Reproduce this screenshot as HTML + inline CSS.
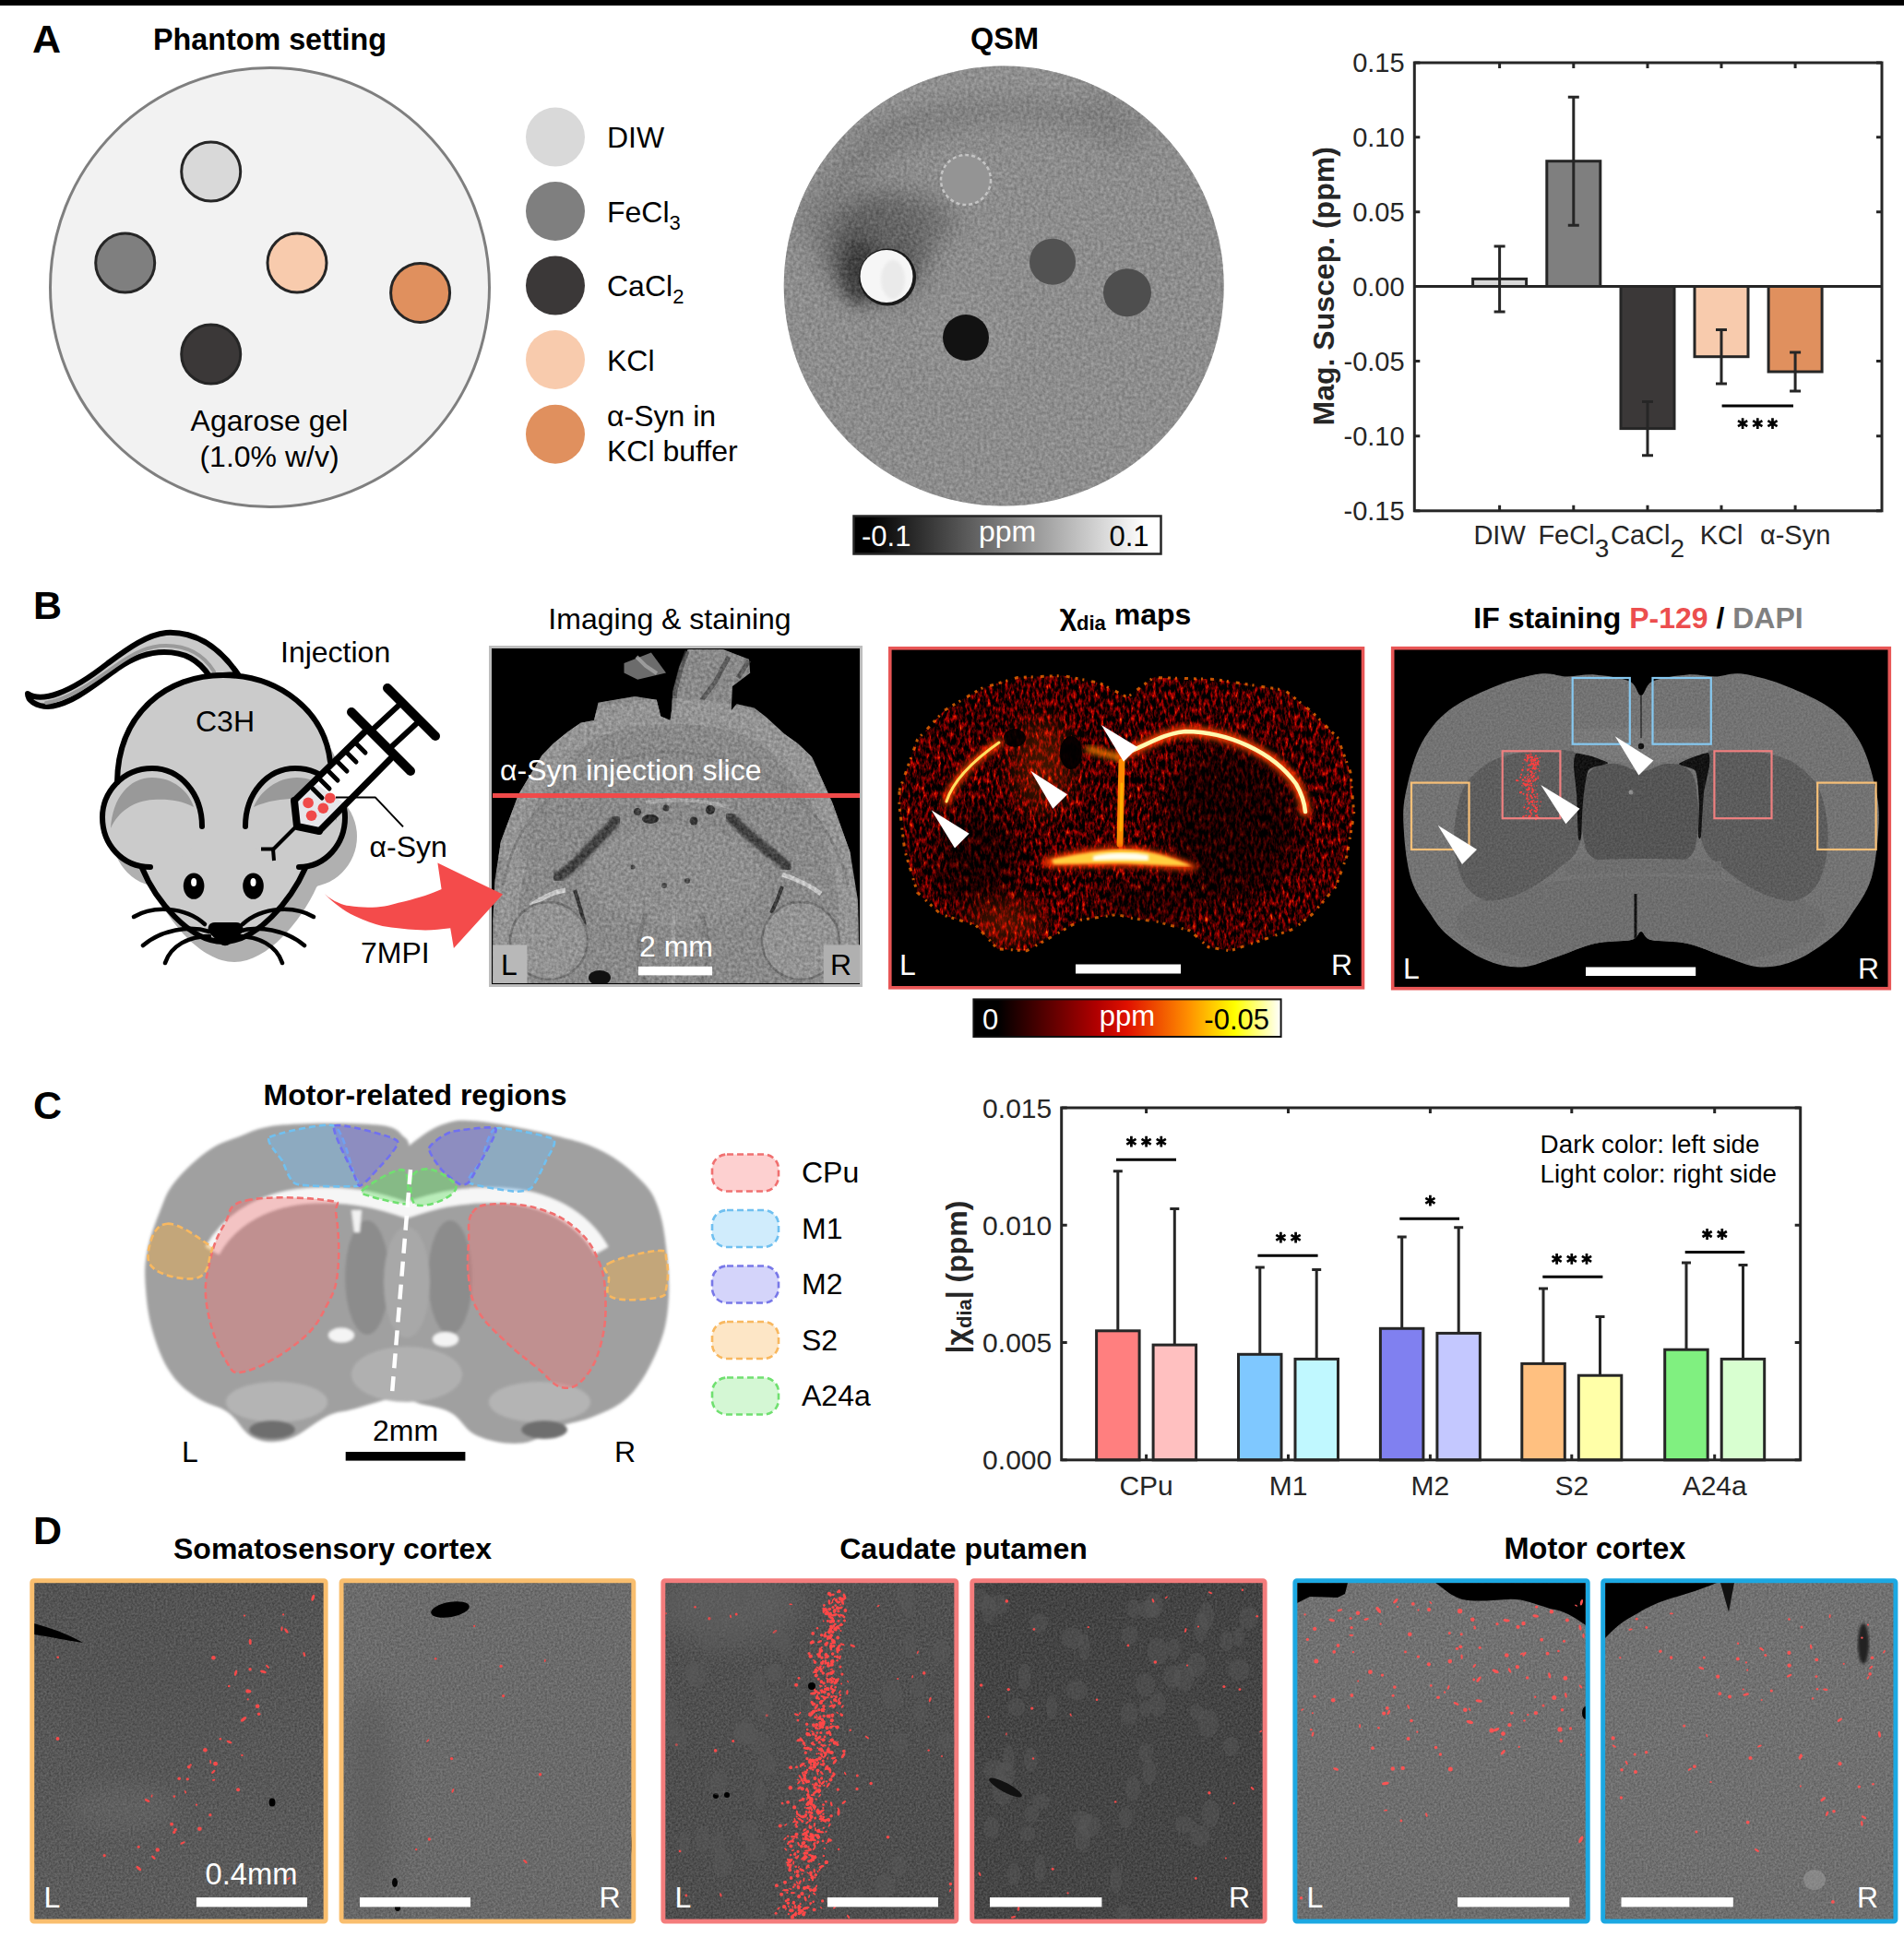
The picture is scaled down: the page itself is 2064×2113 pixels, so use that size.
<!DOCTYPE html>
<html><head><meta charset="utf-8">
<style>
html,body{margin:0;padding:0;background:#fff;}
body{width:2064px;height:2113px;overflow:hidden;position:relative;}
svg{position:absolute;left:0;top:0;}
text{font-family:"Liberation Sans",sans-serif;}
.b{font-weight:bold;}
</style></head><body>
<svg width="2064" height="2113" viewBox="0 0 2064 2113">
<defs>
<clipPath id="qsmclip"><circle cx="1088.2" cy="310.1" r="238.5"/></clipPath>
<filter id="blur12" x="-50%" y="-50%" width="200%" height="200%"><feGaussianBlur stdDeviation="14"/></filter>
<filter id="noise" x="0" y="0" width="100%" height="100%" color-interpolation-filters="sRGB"><feTurbulence type="fractalNoise" baseFrequency="0.3" numOctaves="2" seed="3"/><feColorMatrix type="matrix" values="1 0 0 0 0 1 0 0 0 0 1 0 0 0 0 0 0 0 0 1"/></filter>
<linearGradient id="gbw" x1="0" x2="1" y1="0" y2="0"><stop offset="0.05" stop-color="#000"/><stop offset="0.95" stop-color="#fff"/></linearGradient>
<clipPath id="mriclip"><rect x="533.2" y="703.2" width="398.8" height="362.7"/></clipPath>
<clipPath id="chiclip"><rect x="965" y="703" width="512" height="367"/></clipPath>
<clipPath id="ifclip"><rect x="1511" y="704" width="535" height="366"/></clipPath>
<clipPath id="chibrainclip"><path d="M975 857 L 994.5 801.7 L 1024 770 L 1063.6 746.4 L 1103 734.5 L 1152.5 732.5 L 1192 740.4 L 1222 756 L 1250.5 734.5 L 1317.7 736.5 L 1392.8 748.3 L 1422.4 772 L 1450 799.7 L 1463.9 837.2 L 1467.8 882.6 L 1460 928 L 1448 961.6 L 1422.4 991.3 L 1402.6 1007 L 1369 1019 L 1333.5 1030.8 L 1309.8 1026.8 L 1290 1009 L 1254.5 999.2 L 1224.9 995.2 L 1211.8 991.3 L 1172.3 997.2 L 1144.6 1013 L 1113 1030.8 L 1081.4 1028.8 L 1057.7 1003 L 1020 991.3 L 994.5 967.6 L 980.7 922 L 974.8 872.8 Z"/></clipPath>
<filter id="hot" x="0" y="0" width="100%" height="100%" color-interpolation-filters="sRGB">
<feTurbulence type="fractalNoise" baseFrequency="0.3 0.12" numOctaves="3" seed="7" result="n"/>
<feColorMatrix in="n" type="matrix" values="1.2 0 0 0 -0.47  1.2 0 0 0 -0.47  1.2 0 0 0 -0.47  0 0 0 0 1" result="g"/>
<feComponentTransfer in="g">
<feFuncR type="table" tableValues="0 0.2 0.42 0.68 0.92 1 1 1 1"/>
<feFuncG type="table" tableValues="0 0 0 0 0.15 0.45 0.8 1 1"/>
<feFuncB type="table" tableValues="0 0 0 0 0 0 0.3 0.7 1"/>
</feComponentTransfer>
</filter>
<filter id="glow" x="-20%" y="-50%" width="140%" height="200%"><feGaussianBlur stdDeviation="3"/></filter>
<filter id="blur6" x="-50%" y="-50%" width="200%" height="200%"><feGaussianBlur stdDeviation="8"/></filter>
<linearGradient id="ghot" x1="0" x2="1" y1="0" y2="0">
<stop offset="0.08" stop-color="#000"/><stop offset="0.4" stop-color="#b00000"/><stop offset="0.5" stop-color="#e01000"/><stop offset="0.7" stop-color="#ff9000"/><stop offset="0.85" stop-color="#ffff00"/><stop offset="1" stop-color="#fff"/>
</linearGradient>
<filter id="speck" x="-50%" y="-10%" width="200%" height="120%"><feTurbulence type="turbulence" baseFrequency="0.6" numOctaves="1" seed="2" result="t"/><feComposite in="SourceGraphic" in2="t" operator="in"/></filter>
<filter id="soft" x="-5%" y="-5%" width="110%" height="110%"><feGaussianBlur stdDeviation="1.5"/></filter>
<filter id="gnoise" x="0" y="0" width="100%" height="100%" color-interpolation-filters="sRGB"><feTurbulence type="fractalNoise" baseFrequency="0.45" numOctaves="2" seed="9"/><feColorMatrix type="matrix" values="1 0 0 0 0 1 0 0 0 0 1 0 0 0 0 0 0 0 0 1"/></filter>
<filter id="reddots" x="0" y="0" width="100%" height="100%" color-interpolation-filters="sRGB"><feTurbulence type="fractalNoise" baseFrequency="0.3" numOctaves="1" seed="11" result="n"/><feColorMatrix in="n" type="matrix" values="0 0 0 0 0.95 0 0 0 0 0.27 0 0 0 0 0.27 20 0 0 0 -13.5" result="d"/><feComposite in="d" in2="SourceGraphic" operator="in"/></filter>
<filter id="reddots2" x="0" y="0" width="100%" height="100%" color-interpolation-filters="sRGB"><feTurbulence type="fractalNoise" baseFrequency="0.35" numOctaves="1" seed="12" result="n"/><feColorMatrix in="n" type="matrix" values="0 0 0 0 0.95 0 0 0 0 0.27 0 0 0 0 0.27 14 0 0 0 -7.8" result="d"/><feComposite in="d" in2="SourceGraphic" operator="in"/></filter>
<filter id="reddots3" x="0" y="0" width="100%" height="100%" color-interpolation-filters="sRGB"><feTurbulence type="fractalNoise" baseFrequency="0.3" numOctaves="1" seed="13" result="n"/><feColorMatrix in="n" type="matrix" values="0 0 0 0 0.95 0 0 0 0 0.27 0 0 0 0 0.27 20 0 0 0 -13" result="d"/><feComposite in="d" in2="SourceGraphic" operator="in"/></filter>
</defs>
<rect x="0" y="0" width="2064" height="6" fill="#000"/>

<!-- ===== PANEL A ===== -->
<g id="A">
<text x="35" y="57" class="b" font-size="43">A</text>
<text x="292.5" y="53.6" class="b" font-size="32.3" text-anchor="middle">Phantom setting</text>
<circle cx="292.5" cy="311.5" r="238" fill="#f2f2f2" stroke="#7f7f7f" stroke-width="3"/>
<g stroke="#262626" stroke-width="3">
<circle cx="228.7" cy="186" r="32" fill="#d9d9d9"/>
<circle cx="135.7" cy="285" r="32" fill="#7f7f7f"/>
<circle cx="322" cy="285" r="32" fill="#f8cbad"/>
<circle cx="455.6" cy="317.4" r="32" fill="#e0905e"/>
<circle cx="228.7" cy="384" r="32" fill="#3b3838"/>
</g>
<text x="292" y="467" font-size="32" text-anchor="middle">Agarose gel</text>
<text x="292" y="506" font-size="32" text-anchor="middle">(1.0% w/v)</text>
<g>
<circle cx="602" cy="148.6" r="32" fill="#d9d9d9"/>
<circle cx="602" cy="229" r="32" fill="#7f7f7f"/>
<circle cx="602" cy="309.6" r="32" fill="#3b3838"/>
<circle cx="602" cy="390" r="32" fill="#f8cbad"/>
<circle cx="602" cy="470.7" r="32" fill="#e0905e"/>
</g>
<g font-size="32">
<text x="658" y="160">DIW</text>
<text x="658" y="241">FeCl<tspan font-size="22" dy="8">3</tspan></text>
<text x="658" y="321">CaCl<tspan font-size="22" dy="8">2</tspan></text>
<text x="658" y="402">KCl</text>
<text x="658" y="462">α-Syn in</text>
<text x="658" y="500">KCl buffer</text>
</g>
</g>

<!-- QSM -->
<text x="1089" y="52.5" class="b" font-size="32.5" text-anchor="middle">QSM</text>
<g id="qsm">
<circle cx="1088.2" cy="310.1" r="238.5" fill="#929292"/>
<g clip-path="url(#qsmclip)">
<path d="M880 260 C 900 170, 980 120, 1080 110 C 1150 105, 1200 125, 1230 150" fill="none" stroke="#7a7a7a" stroke-width="40" filter="url(#blur12)" opacity="0.8"/>
<path d="M900 120 C 960 95, 1060 80, 1180 95" fill="none" stroke="#9c9c9c" stroke-width="30" filter="url(#blur12)" opacity="0.8"/>
<path d="M870 210 C 880 170, 900 150, 920 135" fill="none" stroke="#9a9a9a" stroke-width="20" filter="url(#blur12)" opacity="0.7"/>
<ellipse cx="950" cy="270" rx="55" ry="55" fill="#4a4a4a" filter="url(#blur12)" opacity="0.9"/>
<ellipse cx="985" cy="240" rx="50" ry="28" fill="#606060" filter="url(#blur12)" opacity="0.8"/>
<ellipse cx="1050" cy="370" rx="45" ry="45" fill="#9a9a9a" filter="url(#blur12)" opacity="0.5"/>
<ellipse cx="932" cy="295" rx="20" ry="34" fill="#202020" filter="url(#blur6)" opacity="0.85"/>
<rect x="849" y="71" width="480" height="478" fill="#888" filter="url(#noise)" opacity="0.25"/>
</g>
<circle cx="962.1" cy="300.5" r="31" fill="#1a1a1a"/>
<circle cx="961" cy="299.5" r="28.5" fill="#f6f6f6"/>
<ellipse cx="968" cy="303" rx="13" ry="21" fill="#dcdcdc" opacity="0.45" filter="url(#soft)"/>
<circle cx="1047" cy="195" r="27" fill="#949494" stroke="#c4c4c4" stroke-width="2.5" stroke-dasharray="4 3"/>
<circle cx="1141" cy="283.7" r="25" fill="#525252"/>
<circle cx="1222" cy="317.2" r="26" fill="#4e4e4e"/>
<circle cx="1047" cy="366" r="25" fill="#121212"/>
</g>
<rect x="925.5" y="559.5" width="333" height="41" fill="url(#gbw)" stroke="#262626" stroke-width="2.5"/>
<text x="934" y="591.5" font-size="31" fill="#fff">-0.1</text>
<text x="1092" y="586.6" font-size="32" fill="#fff" text-anchor="middle">ppm</text>
<text x="1245.5" y="591.5" font-size="31" fill="#000" text-anchor="end">0.1</text>
<g id="chartA">
<rect x="1596.6" y="302.4" width="58" height="8.1" fill="#d9d9d9" stroke="#262626" stroke-width="3"/>
<rect x="1676.8" y="174.7" width="58" height="135.8" fill="#7f7f7f" stroke="#262626" stroke-width="3"/>
<rect x="1757.0" y="310.5" width="58" height="154.1" fill="#3b3838" stroke="#262626" stroke-width="3"/>
<rect x="1837.0" y="310.5" width="58" height="76.2" fill="#f8cbad" stroke="#262626" stroke-width="3"/>
<rect x="1917.1" y="310.5" width="58" height="92.5" fill="#e0905e" stroke="#262626" stroke-width="3"/>
<path d="M1625.6 266.9V338.1M1619.6 266.9h12M1619.6 338.1h12" stroke="#262626" stroke-width="3" fill="none"/>
<path d="M1705.8 105.2V244.2M1699.8 105.2h12M1699.8 244.2h12" stroke="#262626" stroke-width="3" fill="none"/>
<path d="M1786.0 435.4V493.8M1780.0 435.4h12M1780.0 493.8h12" stroke="#262626" stroke-width="3" fill="none"/>
<path d="M1866.0 357.5V415.9M1860.0 357.5h12M1860.0 415.9h12" stroke="#262626" stroke-width="3" fill="none"/>
<path d="M1946.1 381.9V424.0M1940.1 381.9h12M1940.1 424.0h12" stroke="#262626" stroke-width="3" fill="none"/>
<path d="M1533.3 310.5H2040" stroke="#262626" stroke-width="3"/>
<rect x="1533.3" y="68" width="506.7" height="485.8" fill="none" stroke="#262626" stroke-width="3"/>
<path d="M1533.3 68.0h6M2040 68.0h-6M1533.3 148.8h6M2040 148.8h-6M1533.3 229.7h6M2040 229.7h-6M1533.3 310.5h6M2040 310.5h-6M1533.3 391.6h6M2040 391.6h-6M1533.3 472.7h6M2040 472.7h-6M1533.3 553.8h6M2040 553.8h-6M1625.6 553.8v-6M1625.6 68v6M1705.8 553.8v-6M1705.8 68v6M1786 553.8v-6M1786 68v6M1866 553.8v-6M1866 68v6M1946.1 553.8v-6M1946.1 68v6" stroke="#262626" stroke-width="3"/>
<g font-size="29" fill="#262626" text-anchor="end">
<text x="1522.6" y="78.4">0.15</text>
<text x="1522.6" y="159.2">0.10</text>
<text x="1522.6" y="240.1">0.05</text>
<text x="1522.6" y="320.9">0.00</text>
<text x="1522.6" y="402.0">-0.05</text>
<text x="1522.6" y="483.1">-0.10</text>
<text x="1522.6" y="564.2">-0.15</text>
</g>
<path d="M1866.6 440H1944" stroke="#000" stroke-width="3"/>
<path d="M1889.1 453.3V465.1M1884.0 456.2L1894.2 462.1M1884.0 462.1L1894.2 456.2" stroke="#000" stroke-width="2.7"/><path d="M1905.3 453.3V465.1M1900.2 456.2L1910.4 462.1M1900.2 462.1L1910.4 456.2" stroke="#000" stroke-width="2.7"/><path d="M1921.5 453.3V465.1M1916.4 456.2L1926.6 462.1M1916.4 462.1L1926.6 456.2" stroke="#000" stroke-width="2.7"/>
<text transform="translate(1446 310.3) rotate(-90)" class="b" font-size="32" fill="#262626" text-anchor="middle">Mag. Suscep. (ppm)</text>
<g font-size="29" fill="#262626" text-anchor="middle">
<text x="1625.6" y="590.3">DIW</text>
<text x="1705.8" y="590.3">FeCl<tspan dy="14" font-size="28">3</tspan></text>
<text x="1786" y="590.3">CaCl<tspan dy="14" font-size="28">2</tspan></text>
<text x="1866" y="590.3">KCl</text>
<text x="1946.1" y="590.3">α-Syn</text>
</g>
</g>


<!-- ===== PANEL B ===== -->
<text x="36" y="670.5" class="b" font-size="43">B</text>
<g id="mouse" stroke-linecap="round" stroke-linejoin="round">
<!-- tail -->
<path d="M30 752 C 45 762, 75 752, 117 719 C 140 702, 160 688, 180 686 C 215 684, 240 705, 258 731 L 227 733 C 215 715, 200 707, 178 707 C 158 707, 140 716, 127 725 C 100 745, 75 765, 52 766 C 40 766, 30 760, 30 752 Z" fill="#cacaca" stroke="#000" stroke-width="6"/>
<path d="M50 762 C 75 758, 100 740, 125 722 C 145 708, 160 700, 180 700 C 205 700, 222 712, 232 728" fill="none" stroke="#9a9a9a" stroke-width="4"/>
<!-- shadow silhouette -->
<g transform="translate(12 21)" fill="#b0b0b0">
<path d="M127 855 C 127 775, 180 732, 242 732 C 305 732, 355 775, 360 835 L 360 900 L 331 941 L 154 941 L 127 900 Z"/>
<circle cx="165" cy="886" r="55"/>
<circle cx="320" cy="886" r="55"/>
<path d="M150 930 L 154 941 C 168 975, 205 1022, 242 1022 C 279 1022, 316 975, 331 941 L 335 930 Z"/>
</g>
<!-- main silhouette fill -->
<g fill="#cbcbcb">
<path d="M127 855 C 127 775, 180 732, 242 732 C 305 732, 355 775, 360 835 L 360 900 L 331 941 L 154 941 L 127 900 Z"/>
<circle cx="165" cy="886" r="54"/>
<circle cx="320" cy="886" r="54"/>
<path d="M150 930 L 154 941 C 168 975, 205 1022, 242 1022 C 279 1022, 316 975, 331 941 L 335 930 Z"/>
</g>
<g fill="none" stroke="#000" stroke-width="6">
<path d="M127 848 C 128 772, 182 732, 242 732 C 304 732, 352 772, 358 826"/>
<path d="M154 941 C 168 975, 205 1021, 242 1021 C 279 1021, 316 975, 331 941"/>
<path d="M219 896 C 219 860, 195 833, 165 833 C 132 833, 111 860, 111 886 C 111 915, 132 940, 163 940"/>
<path d="M266 896 C 266 860, 290 833, 320 833 C 353 833, 374 860, 374 886 C 374 915, 353 940, 324 940"/>
</g>
<path d="M120 898 C 122 865, 140 843, 165 843 C 188 843, 205 858, 210 875 C 195 867, 180 866, 166 867 C 145 868, 128 880, 120 898 Z" fill="#999"/>
<path d="M275 875 C 282 858, 300 843, 322 843 C 346 843, 362 860, 365 890 C 355 875, 340 866, 320 866 C 306 866, 290 868, 275 875 Z" fill="#999"/>
<!-- eyes -->
<ellipse cx="210.1" cy="960.6" rx="11.3" ry="14.2" fill="#000"/>
<ellipse cx="274.5" cy="960.6" rx="11.3" ry="14.2" fill="#000"/>
<ellipse cx="210.1" cy="956.5" rx="3" ry="4.5" fill="#fff"/>
<ellipse cx="274.5" cy="956.5" rx="3" ry="4.5" fill="#fff"/>
<!-- nose -->
<path d="M233 1001 L 256 1001 C 262 1001, 264 1006, 261 1011 L 249 1022 C 246 1025, 242 1025, 239 1022 L 228 1011 C 225 1006, 227 1001, 233 1001 Z" fill="#000" stroke="#000" stroke-width="2"/>
<!-- whiskers -->
<g fill="none" stroke="#000" stroke-width="4.5">
<path d="M145 994 C 165 982, 200 982, 222 1002"/>
<path d="M155 1025 C 175 1008, 205 1003, 227 1010"/>
<path d="M179 1044 C 185 1025, 205 1015, 227 1015"/>
<path d="M340 994 C 320 982, 285 982, 263 1002"/>
<path d="M330 1025 C 310 1008, 280 1003, 258 1010"/>
<path d="M306 1044 C 300 1025, 280 1015, 258 1015"/>
</g>
<!-- syringe -->
<g stroke="#000" fill="none">
<path d="M319 868 L 398 791 L 423 823 L 346 901 L 321 896 Z" fill="#ffffff" stroke="none"/>
<path d="M318 869 L 321 896 L 346 901 L 375 872 L 340 848 Z" fill="#e6e6ea" stroke="none"/>
<path d="M319 868 L 322 896 L 346 901" stroke-width="8"/>
<path d="M319 868 L 398 791" stroke-width="7"/>
<path d="M346 901 L 423 823" stroke-width="7"/>
<path d="M321 896 L 296 921" stroke-width="4"/>
<path d="M283 920.5 L 296 920.5 L 297 933" stroke-width="4" stroke-linecap="butt"/>
<path d="M381 772 L 445 836" stroke-width="10"/>
<path d="M420 746 L 472 798" stroke-width="10"/>
<path d="M405 790 L 433 764 M 425 809 L 452 784" stroke-width="6"/>
<path d="M339 855 L 349 865 M 347 845 L 357 855 M 356 836 L 366 846 M 366 826 L 376 836 M 376 816 L 386 826 M 386 806 L 396 816" stroke-width="5"/>
</g>
<g fill="#f04a4a">
<circle cx="334.1" cy="870.4" r="5.8"/><circle cx="357.8" cy="865.2" r="5.8"/><circle cx="350.3" cy="876.2" r="5.8"/><circle cx="337.6" cy="884.2" r="5.8"/>
</g>
<path d="M364 864.6 L 407 864.6 L 437 896.4" fill="none" stroke="#000" stroke-width="2" stroke-linecap="butt"/>
</g>
<text x="304" y="717.8" font-size="32">Injection</text>
<text x="212" y="793" font-size="32">C3H</text>
<text x="400.5" y="929" font-size="32">α-Syn</text>
<text x="391" y="1043.8" font-size="32">7MPI</text>
<text x="726" y="682.3" font-size="32" text-anchor="middle">Imaging &amp; staining</text>
<rect x="531.5" y="701.5" width="402" height="367" fill="#000" stroke="#bdbdbd" stroke-width="3"/>
<defs><clipPath id="mribrain"><path d="M534 1066 L534.3 997.8 L536.4 955.3 L542.8 912.7 L561.9 861.7 L587.4 819 L600 806 L614.7 794 L629.4 783.8 L644 780.9 L648.5 761.8 L688.2 755 L711.8 758.8 L716.2 776.5 L726.5 780.9 L728 770.6 L729.4 750 L736.8 722 L745.6 704 L783.8 704 L811.8 714.7 L813.2 729.4 L794 744 L792.6 770.6 L798.5 763.2 L817.6 767.6 L829.4 776.5 L850 795.6 L864.7 805.9 L880 820.6 L902.3 870.2 L921.4 923.4 L930 976.5 L932 1066 Z"/></clipPath></defs>
<g clip-path="url(#mriclip)">
<path d="M534 1066 L534.3 997.8 L536.4 955.3 L542.8 912.7 L561.9 861.7 L587.4 819 L600 806 L614.7 794 L629.4 783.8 L644 780.9 L648.5 761.8 L688.2 755 L711.8 758.8 L716.2 776.5 L726.5 780.9 L728 770.6 L729.4 750 L736.8 722 L745.6 704 L783.8 704 L811.8 714.7 L813.2 729.4 L794 744 L792.6 770.6 L798.5 763.2 L817.6 767.6 L829.4 776.5 L850 795.6 L864.7 805.9 L880 820.6 L902.3 870.2 L921.4 923.4 L930 976.5 L932 1066 Z" fill="#8f8f8f"/>
<path d="M676.5 719 L705.9 707.4 L722 729.4 L691.2 736.8 L676.5 729.4 Z" fill="#6c6c6c"/>
<path d="M745 706 L 738 725 L 732 748 L 730 770 M 790 712 L 775 740 L 760 760 M 812 716 L 800 735" fill="none" stroke="#3a3a3a" stroke-width="5" opacity="0.8"/>
<path d="M690 712 L 700 722 L 712 730" fill="none" stroke="#a8a8a8" stroke-width="4" opacity="0.8"/>
<g clip-path="url(#mribrain)">
<path d="M548 930 C 560 860, 600 800, 660 780 C 700 768, 760 768, 800 780 C 860 800, 900 860, 915 930" fill="none" stroke="#a4a4a4" stroke-width="28" opacity="0.7"/>
<path d="M550 1066 C 545 1000, 550 960, 560 930" fill="none" stroke="#a8a8a8" stroke-width="24" opacity="0.6"/>
<path d="M915 1066 C 922 1000, 920 960, 910 930" fill="none" stroke="#a8a8a8" stroke-width="20" opacity="0.6"/>
<path d="M545 960 C 560 880, 620 820, 730 815 C 840 820, 900 880, 920 960" fill="none" stroke="#7a7a7a" stroke-width="3" opacity="0.8"/>
<path d="M668 889 C 655 905, 640 918, 630 930 C 618 942, 610 948, 604 951" fill="none" stroke="#262626" stroke-width="11" stroke-linecap="round" filter="url(#soft)"/>
<path d="M791 885 C 805 900, 820 912, 832 922 C 842 930, 850 936, 854 940" fill="none" stroke="#262626" stroke-width="11" stroke-linecap="round" filter="url(#soft)"/>
<path d="M623 965 C 628 980, 631 992, 634 1003 M 848 961 C 844 972, 840 982, 836 990" fill="none" stroke="#1e1e1e" stroke-width="4"/>
<ellipse cx="730" cy="950" rx="95" ry="55" fill="#9a9a9a" opacity="0.6"/>
<path d="M575 982 C 590 972, 600 967, 613 965" fill="none" stroke="#e4e4e4" stroke-width="5"/>
<path d="M848 948 C 860 952, 878 960, 890 969" fill="none" stroke="#e4e4e4" stroke-width="5"/>
<ellipse cx="595" cy="1020" rx="42" ry="42" fill="#9c9c9c" stroke="#6c6c6c" stroke-width="2.5"/>
<ellipse cx="868" cy="1020" rx="42" ry="42" fill="#9c9c9c" stroke="#6c6c6c" stroke-width="2.5"/>
<path d="M730 985 L 730 1066" stroke="#b0b0b0" stroke-width="4" opacity="0.7"/>
<path d="M700 990 C 690 1020, 690 1050, 700 1066 M 760 990 C 770 1020, 770 1050, 760 1066" fill="none" stroke="#6a6a6a" stroke-width="5" opacity="0.6"/>
<ellipse cx="705" cy="888" rx="9" ry="5" fill="#111"/><circle cx="691" cy="880" r="4" fill="#222"/><circle cx="770" cy="878" r="5" fill="#111"/><circle cx="752" cy="890" r="4.5" fill="#1a1a1a"/><circle cx="722" cy="876" r="3.5" fill="#222"/>
<path d="M700 870 C 720 866, 760 866, 790 875" fill="none" stroke="#c8c8c8" stroke-width="4" opacity="0.7"/>
<circle cx="720" cy="960" r="3" fill="#333"/><circle cx="686" cy="940" r="2.5" fill="#333"/><circle cx="745" cy="955" r="3" fill="#333"/>
<rect x="534" y="704" width="398" height="362" fill="#888" filter="url(#noise)" opacity="0.3"/>
<ellipse cx="650" cy="1060" rx="12" ry="8" fill="#111"/>
</g></g>
<rect x="534.3" y="1024.4" width="37.2" height="41.5" fill="#b8b8b8"/>
<rect x="892.7" y="1024.4" width="39.3" height="41.5" fill="#b0b0b0"/>
<text x="543" y="1057.4" font-size="32" fill="#000">L</text>
<text x="900" y="1057.4" font-size="32" fill="#000">R</text>
<rect x="534" y="860" width="398" height="5" fill="#f04a4a"/>
<text x="542" y="846.4" font-size="32" fill="#fff">α-Syn injection slice</text>
<text x="733" y="1036.5" font-size="32" fill="#fff" text-anchor="middle">2 mm</text>
<rect x="692" y="1047.8" width="80" height="9.6" fill="#fff"/>

<!-- red arrow -->
<path d="M351.7 968.9 C 362 978, 372 981, 378.3 982.1 C 390 984, 400 984, 408.5 983.4 C 420 983, 430 979, 438.7 977.3 C 455 973, 468 969, 478.6 964 L 474.4 935.6 L 545 969.5 L 491.9 1028 L 488.2 1006.3 C 475 1008, 465 1009, 450.8 1008.1 C 440 1007, 428 1006, 414.6 1003.9 C 405 1002, 395 998, 384.4 993 C 372 987, 362 979, 351.7 968.9 Z" fill="#f44b4b"/>

<!-- chi map panel -->
<text x="1220" y="677" class="b" font-size="32" text-anchor="middle">χ<tspan font-size="22" dy="6">dia</tspan><tspan dy="-6"> maps</tspan></text>
<rect x="964.8" y="702.8" width="512.7" height="368" fill="#000" stroke="#e85656" stroke-width="3.6"/>
<g clip-path="url(#chiclip)">
<path id="chibrain" d="M975 857 L 994.5 801.7 L 1024 770 L 1063.6 746.4 L 1103 734.5 L 1152.5 732.5 L 1192 740.4 L 1222 756 L 1250.5 734.5 L 1317.7 736.5 L 1392.8 748.3 L 1422.4 772 L 1450 799.7 L 1463.9 837.2 L 1467.8 882.6 L 1460 928 L 1448 961.6 L 1422.4 991.3 L 1402.6 1007 L 1369 1019 L 1333.5 1030.8 L 1309.8 1026.8 L 1290 1009 L 1254.5 999.2 L 1224.9 995.2 L 1211.8 991.3 L 1172.3 997.2 L 1144.6 1013 L 1113 1030.8 L 1081.4 1028.8 L 1057.7 1003 L 1020 991.3 L 994.5 967.6 L 980.7 922 L 974.8 872.8 Z" fill="#1e0200"/>
<g clip-path="url(#chibrainclip)">
<rect x="965" y="703" width="512" height="367" filter="url(#hot)" opacity="1"/>
</g>
<path d="M975 857 L 994.5 801.7 L 1024 770 L 1063.6 746.4 L 1103 734.5 L 1152.5 732.5 L 1192 740.4 L 1222 756 L 1250.5 734.5 L 1317.7 736.5 L 1392.8 748.3 L 1422.4 772 L 1450 799.7 L 1463.9 837.2 L 1467.8 882.6 L 1460 928 L 1448 961.6 L 1422.4 991.3 L 1402.6 1007 L 1369 1019 L 1333.5 1030.8 L 1309.8 1026.8 L 1290 1009 L 1254.5 999.2 L 1224.9 995.2 L 1211.8 991.3 L 1172.3 997.2 L 1144.6 1013 L 1113 1030.8 L 1081.4 1028.8 L 1057.7 1003 L 1020 991.3 L 994.5 967.6 L 980.7 922 L 974.8 872.8 Z" fill="none" stroke="#ff7000" stroke-width="3" stroke-dasharray="3 5 2 8 4 6" opacity="0.75"/>
<g clip-path="url(#chibrainclip)">
<ellipse cx="1335" cy="890" rx="75" ry="85" fill="#000" opacity="0.55" filter="url(#blur12)"/>
<ellipse cx="1060" cy="930" rx="45" ry="55" fill="#000" opacity="0.5" filter="url(#blur12)"/>
<ellipse cx="1250" cy="975" rx="60" ry="20" fill="#000" opacity="0.5" filter="url(#blur12)"/>
<ellipse cx="1130" cy="830" rx="30" ry="50" fill="#ff5000" opacity="0.25" filter="url(#blur12)"/>
<ellipse cx="1090" cy="1000" rx="40" ry="20" fill="#ff4000" opacity="0.3" filter="url(#blur12)"/>
</g>
<ellipse cx="1100" cy="800" rx="12" ry="10" fill="#000" opacity="0.9"/>
<ellipse cx="1161" cy="816" rx="12" ry="18" fill="#000" opacity="0.95"/>
<g fill="none" stroke-linecap="round">
<path d="M1216 818 C 1240 810, 1260 795, 1285 793 C 1330 793, 1380 815, 1405 850 C 1412 862, 1414 870, 1415 880" stroke="#ff4000" stroke-width="11" filter="url(#glow)"/>
<path d="M1216 818 C 1240 810, 1260 795, 1285 793 C 1330 793, 1380 815, 1405 850 C 1412 862, 1414 870, 1415 880" stroke="#fff8b0" stroke-width="4.5"/>
<path d="M1026 869 C 1032 850, 1050 828, 1083 805" stroke="#ff4000" stroke-width="8" filter="url(#glow)"/>
<path d="M1026 869 C 1032 850, 1050 828, 1083 805" stroke="#ffe060" stroke-width="3"/>
<path d="M1180 812 L 1216 822" stroke="#ff8000" stroke-width="6" filter="url(#glow)"/>
<path d="M1216 821 L 1214 925" stroke="#f04000" stroke-width="13" filter="url(#glow)"/>
<path d="M1216 826 L 1214 915" stroke="#ff8a00" stroke-width="7"/>
<path d="M1216 850 L 1215 900" stroke="#ffb000" stroke-width="3"/>
<path d="M1132 931 C 1150 925, 1190 918, 1218 918 C 1245 918, 1280 930, 1300 940 C 1292 947, 1270 941, 1242 940 C 1210 939, 1170 940, 1138 940 C 1130 938, 1128 934, 1132 931 Z" fill="#ff3a00" filter="url(#glow)"/>
<path d="M1140 932 C 1160 927, 1195 921, 1218 921 C 1245 921, 1275 931, 1292 939 C 1270 939, 1245 937, 1215 936 C 1185 936, 1160 937, 1142 937 Z" fill="#ffd040" filter="url(#soft)"/>
<path d="M1185 928 C 1200 924, 1225 923, 1245 927 L 1245 933 C 1225 932, 1200 932, 1185 933 Z" fill="#fffff0" filter="url(#soft)"/>
</g>
</g>
<g fill="#fff">
<path d="M1193.9 786 L 1233.6 810.2 L 1218 825.8 Z"/>
<path d="M1117.3 835.7 L 1157 861.2 L 1141.4 876.8 Z"/>
<path d="M1009.6 878.2 L 1050.7 903.8 L 1035 919.4 Z"/>
</g>
<text x="975" y="1057" font-size="32" fill="#fff">L</text>
<text x="1443" y="1057" font-size="32" fill="#fff">R</text>
<rect x="1166" y="1045.5" width="114" height="10" fill="#fff"/>
<rect x="1055.4" y="1083.4" width="333.2" height="40.6" fill="url(#ghot)" stroke="#111" stroke-width="2"/>
<text x="1065" y="1116" font-size="31" fill="#fff">0</text>
<text x="1222" y="1112" font-size="31" fill="#fff" text-anchor="middle">ppm</text>
<text x="1376" y="1116" font-size="31" fill="#000" text-anchor="end">-0.05</text>
<text x="1776" y="681.3" class="b" font-size="32" text-anchor="middle">IF staining <tspan fill="#ec4e4e">P-129</tspan> / <tspan fill="#808080">DAPI</tspan></text>
<rect x="1509.7" y="702.7" width="538.6" height="369" fill="#000" stroke="#e85656" stroke-width="3.6"/>
<defs><clipPath id="ifbrain"><path d="M1779.0 754.0 C1783.2 754.0 1783.3 742.2 1791.7 738.5 C1800.1 734.8 1818.1 732.3 1829.3 731.5 C1840.5 730.7 1849.0 733.6 1858.9 733.5 C1868.8 733.4 1875.3 728.8 1888.5 730.6 C1901.7 732.4 1921.4 737.8 1937.9 744.4 C1954.4 751.0 1974.1 759.8 1987.3 770.0 C2000.5 780.2 2009.3 791.8 2016.9 805.6 C2024.5 819.4 2029.4 838.5 2032.7 853.0 C2036.0 867.5 2037.3 876.0 2036.6 892.5 C2035.9 909.0 2033.6 935.3 2028.7 951.8 C2023.8 968.3 2013.9 980.8 2007.0 991.3 C2000.1 1001.8 1997.2 1006.8 1987.3 1015.0 C1977.4 1023.2 1961.0 1035.0 1947.8 1040.6 C1934.6 1046.2 1921.5 1049.2 1908.3 1048.5 C1895.1 1047.8 1882.0 1041.0 1868.8 1036.7 C1855.6 1032.4 1842.5 1025.8 1829.3 1022.9 C1816.1 1019.9 1798.2 1021.1 1789.8 1019.0 C1781.4 1016.9 1782.6 1010.0 1779.0 1010.0 C1775.4 1010.0 1776.6 1016.9 1768.2 1019.0 C1759.8 1021.1 1741.9 1019.9 1728.7 1022.9 C1715.5 1025.8 1702.4 1032.4 1689.2 1036.7 C1676.0 1041.0 1662.9 1047.8 1649.7 1048.5 C1636.5 1049.2 1623.4 1046.2 1610.2 1040.6 C1597.0 1035.0 1580.6 1023.2 1570.7 1015.0 C1560.8 1006.8 1557.9 1001.8 1551.0 991.3 C1544.1 980.8 1534.2 968.3 1529.3 951.8 C1524.4 935.3 1522.1 909.0 1521.4 892.5 C1520.7 876.0 1522.0 867.5 1525.3 853.0 C1528.6 838.5 1533.5 819.4 1541.1 805.6 C1548.7 791.8 1557.5 780.2 1570.7 770.0 C1583.9 759.8 1603.6 751.0 1620.1 744.4 C1636.6 737.8 1656.3 732.4 1669.5 730.6 C1682.7 728.8 1689.2 733.4 1699.1 733.5 C1709.0 733.6 1717.5 730.7 1728.7 731.5 C1739.9 732.3 1757.9 734.8 1766.3 738.5 C1774.7 742.2 1774.8 754.0 1779.0 754.0 Z"/></clipPath></defs>
<g clip-path="url(#ifclip)">
<path d="M1779.0 754.0 C1783.2 754.0 1783.3 742.2 1791.7 738.5 C1800.1 734.8 1818.1 732.3 1829.3 731.5 C1840.5 730.7 1849.0 733.6 1858.9 733.5 C1868.8 733.4 1875.3 728.8 1888.5 730.6 C1901.7 732.4 1921.4 737.8 1937.9 744.4 C1954.4 751.0 1974.1 759.8 1987.3 770.0 C2000.5 780.2 2009.3 791.8 2016.9 805.6 C2024.5 819.4 2029.4 838.5 2032.7 853.0 C2036.0 867.5 2037.3 876.0 2036.6 892.5 C2035.9 909.0 2033.6 935.3 2028.7 951.8 C2023.8 968.3 2013.9 980.8 2007.0 991.3 C2000.1 1001.8 1997.2 1006.8 1987.3 1015.0 C1977.4 1023.2 1961.0 1035.0 1947.8 1040.6 C1934.6 1046.2 1921.5 1049.2 1908.3 1048.5 C1895.1 1047.8 1882.0 1041.0 1868.8 1036.7 C1855.6 1032.4 1842.5 1025.8 1829.3 1022.9 C1816.1 1019.9 1798.2 1021.1 1789.8 1019.0 C1781.4 1016.9 1782.6 1010.0 1779.0 1010.0 C1775.4 1010.0 1776.6 1016.9 1768.2 1019.0 C1759.8 1021.1 1741.9 1019.9 1728.7 1022.9 C1715.5 1025.8 1702.4 1032.4 1689.2 1036.7 C1676.0 1041.0 1662.9 1047.8 1649.7 1048.5 C1636.5 1049.2 1623.4 1046.2 1610.2 1040.6 C1597.0 1035.0 1580.6 1023.2 1570.7 1015.0 C1560.8 1006.8 1557.9 1001.8 1551.0 991.3 C1544.1 980.8 1534.2 968.3 1529.3 951.8 C1524.4 935.3 1522.1 909.0 1521.4 892.5 C1520.7 876.0 1522.0 867.5 1525.3 853.0 C1528.6 838.5 1533.5 819.4 1541.1 805.6 C1548.7 791.8 1557.5 780.2 1570.7 770.0 C1583.9 759.8 1603.6 751.0 1620.1 744.4 C1636.6 737.8 1656.3 732.4 1669.5 730.6 C1682.7 728.8 1689.2 733.4 1699.1 733.5 C1709.0 733.6 1717.5 730.7 1728.7 731.5 C1739.9 732.3 1757.9 734.8 1766.3 738.5 C1774.7 742.2 1774.8 754.0 1779.0 754.0 Z" fill="#717171"/>
<g clip-path="url(#ifbrain)">
<ellipse cx="1779" cy="1000" rx="200" ry="50" fill="#6c6c6c"/>
<path d="M1858.9 813.5 C1873.9 812.7 1898.3 812.8 1918.0 817.5 C1937.7 822.2 1945.7 826.1 1957.6 837.2 C1969.5 848.3 1973.0 853.8 1977.4 872.8 C1981.8 891.8 1983.4 912.3 1979.4 932.0 C1975.4 951.7 1969.9 963.6 1957.6 971.5 C1945.3 979.4 1935.8 977.4 1918.0 971.5 C1900.2 965.6 1883.4 953.7 1868.8 941.9 C1854.2 930.1 1850.6 930.1 1845.0 912.3 C1839.4 894.5 1841.4 871.2 1841.0 853.0 C1840.6 834.8 1839.4 829.3 1843.0 821.4 C1846.6 813.5 1843.9 814.3 1858.9 813.5 Z" fill="#565656"/>
<path d="M1699.1 813.5 C1684.1 812.7 1659.7 812.8 1640.0 817.5 C1620.3 822.2 1612.3 826.1 1600.4 837.2 C1588.5 848.3 1585.0 853.8 1580.6 872.8 C1576.2 891.8 1574.6 912.3 1578.6 932.0 C1582.6 951.7 1588.1 963.6 1600.4 971.5 C1612.7 979.4 1622.2 977.4 1640.0 971.5 C1657.8 965.6 1674.6 953.7 1689.2 941.9 C1703.8 930.1 1707.4 930.1 1713.0 912.3 C1718.6 894.5 1716.6 871.2 1717.0 853.0 C1717.4 834.8 1718.6 829.3 1715.0 821.4 C1711.4 813.5 1714.1 814.3 1699.1 813.5 Z" fill="#585858"/>
<path d="M1750.0 828.0 C1761.0 828.0 1767.4 836.0 1779.0 836.0 C1790.6 836.0 1797.4 828.0 1808.0 828.0 C1818.6 828.0 1825.6 828.6 1832.0 836.0 C1838.4 843.4 1838.4 851.2 1840.0 865.0 C1841.6 878.8 1842.0 892.0 1840.0 905.0 C1838.0 918.0 1838.0 923.8 1830.0 930.0 C1822.0 936.2 1814.0 934.8 1800.0 936.0 C1786.0 937.2 1774.6 937.2 1760.0 936.0 C1745.4 934.8 1735.8 936.2 1727.0 930.0 C1718.2 923.8 1718.2 918.0 1716.0 905.0 C1713.8 892.0 1714.4 878.8 1716.0 865.0 C1717.6 851.2 1717.2 843.4 1724.0 836.0 C1730.8 828.6 1739.0 828.0 1750.0 828.0 Z" fill="#4e4e4e"/>
<path d="M1697 934 C 1740 930, 1820 930, 1866 934 L 1866 949 C 1820 946, 1740 946, 1697 949 Z" fill="#6c6c6c"/>
<circle cx="1768" cy="859" r="2.5" fill="#909090"/>
<path d="M1851.0 816.0 C1854.3 816.2 1853.4 825.6 1853.0 830.0 C1852.6 834.4 1847.9 852.4 1847.0 860.0 C1846.1 867.6 1844.6 901.4 1844.0 906.0 C1843.4 910.6 1841.2 909.6 1841.0 906.0 C1840.8 902.4 1842.3 877.0 1842.0 870.0 C1841.7 863.0 1840.2 840.2 1838.0 836.0 C1835.8 831.8 1818.7 830.0 1820.0 828.0 C1821.3 826.0 1847.7 815.8 1851.0 816.0 Z" fill="#000"/>
<path d="M1710.0 816.0 C1713.7 815.7 1741.8 825.1 1743.0 827.0 C1744.2 828.9 1724.7 830.7 1722.0 835.0 C1719.3 839.3 1716.8 862.7 1716.0 870.0 C1715.2 877.3 1714.5 904.2 1714.0 908.0 C1713.5 911.8 1711.5 912.8 1711.0 908.0 C1710.5 903.2 1709.5 867.8 1709.0 860.0 C1708.5 852.2 1705.9 834.4 1706.0 830.0 C1706.1 825.6 1706.3 816.3 1710.0 816.0 Z" fill="#000"/>
<path d="M1706 816 C 1740 822, 1760 828, 1780 829 C 1800 828, 1820 822, 1852 816 L 1852 790 L 1706 790 Z" fill="#787878"/>
<path d="M1773 1019 L 1773 969" stroke="#000" stroke-width="3"/>
<path d="M1779 754 L 1779 800" stroke="#202020" stroke-width="1.5"/>
<circle cx="1779" cy="809" r="3.2" fill="#000"/>
<rect x="1511" y="704" width="535" height="366" filter="url(#gnoise)" opacity="0.15"/>
<g fill="#ff4040"><circle cx="1663.5" cy="841.8" r="0.6"/><circle cx="1655.0" cy="855.8" r="0.9"/><circle cx="1658.4" cy="820.8" r="0.6"/><circle cx="1658.2" cy="847.3" r="0.7"/><circle cx="1662.8" cy="861.5" r="0.8"/><circle cx="1669.3" cy="886.9" r="0.7"/><circle cx="1664.7" cy="828.7" r="1.1"/><circle cx="1656.4" cy="830.0" r="0.8"/><circle cx="1657.5" cy="856.5" r="0.6"/><circle cx="1655.0" cy="866.0" r="0.9"/><circle cx="1654.1" cy="851.4" r="1.0"/><circle cx="1656.5" cy="834.5" r="1.1"/><circle cx="1656.9" cy="871.8" r="0.6"/><circle cx="1657.4" cy="846.7" r="0.8"/><circle cx="1656.3" cy="819.3" r="0.9"/><circle cx="1659.3" cy="880.7" r="0.9"/><circle cx="1648.1" cy="859.1" r="1.2"/><circle cx="1655.5" cy="850.9" r="1.0"/><circle cx="1666.0" cy="863.2" r="0.7"/><circle cx="1657.6" cy="844.8" r="0.8"/><circle cx="1663.2" cy="830.0" r="1.0"/><circle cx="1661.8" cy="828.0" r="1.1"/><circle cx="1655.6" cy="824.0" r="1.1"/><circle cx="1664.0" cy="874.7" r="0.8"/><circle cx="1667.2" cy="841.4" r="0.6"/><circle cx="1662.4" cy="831.1" r="0.8"/><circle cx="1656.5" cy="859.3" r="0.8"/><circle cx="1648.3" cy="842.8" r="1.0"/><circle cx="1651.0" cy="853.1" r="0.5"/><circle cx="1663.6" cy="879.0" r="1.1"/><circle cx="1656.2" cy="845.7" r="0.9"/><circle cx="1663.4" cy="822.6" r="0.6"/><circle cx="1659.3" cy="841.8" r="0.6"/><circle cx="1660.7" cy="825.3" r="1.1"/><circle cx="1659.0" cy="861.6" r="0.7"/><circle cx="1664.9" cy="844.8" r="1.2"/><circle cx="1654.5" cy="850.7" r="0.6"/><circle cx="1658.4" cy="843.9" r="0.6"/><circle cx="1664.9" cy="819.2" r="0.6"/><circle cx="1661.5" cy="856.2" r="1.2"/><circle cx="1660.8" cy="877.7" r="0.8"/><circle cx="1662.8" cy="828.5" r="1.0"/><circle cx="1660.9" cy="842.9" r="1.2"/><circle cx="1664.8" cy="876.0" r="1.0"/><circle cx="1657.5" cy="833.8" r="0.5"/><circle cx="1659.1" cy="820.7" r="1.0"/><circle cx="1651.2" cy="885.7" r="1.2"/><circle cx="1659.1" cy="885.4" r="0.7"/><circle cx="1663.7" cy="833.1" r="1.1"/><circle cx="1655.4" cy="877.0" r="1.1"/><circle cx="1655.8" cy="822.1" r="1.0"/><circle cx="1657.6" cy="870.6" r="1.1"/><circle cx="1663.2" cy="838.7" r="0.8"/><circle cx="1664.5" cy="845.6" r="0.6"/><circle cx="1667.4" cy="828.7" r="1.1"/><circle cx="1667.7" cy="825.7" r="1.0"/><circle cx="1656.7" cy="842.4" r="0.5"/><circle cx="1657.7" cy="885.0" r="1.2"/><circle cx="1662.8" cy="847.0" r="0.6"/><circle cx="1660.4" cy="836.3" r="0.9"/><circle cx="1659.1" cy="836.4" r="1.1"/><circle cx="1653.1" cy="843.1" r="1.1"/><circle cx="1661.8" cy="846.9" r="0.9"/><circle cx="1660.8" cy="854.8" r="0.6"/><circle cx="1659.9" cy="817.7" r="0.8"/><circle cx="1656.0" cy="868.5" r="0.9"/><circle cx="1656.6" cy="856.4" r="0.9"/><circle cx="1660.1" cy="837.1" r="0.9"/><circle cx="1656.8" cy="855.1" r="0.8"/><circle cx="1651.5" cy="860.8" r="1.0"/><circle cx="1651.6" cy="849.4" r="1.2"/><circle cx="1666.7" cy="865.3" r="0.7"/><circle cx="1664.2" cy="856.5" r="0.6"/><circle cx="1660.0" cy="826.7" r="0.7"/><circle cx="1657.0" cy="821.6" r="1.1"/><circle cx="1660.6" cy="827.4" r="0.6"/><circle cx="1665.1" cy="879.7" r="1.2"/><circle cx="1644.1" cy="846.1" r="1.1"/><circle cx="1657.1" cy="829.8" r="0.7"/><circle cx="1658.9" cy="833.2" r="0.5"/><circle cx="1655.3" cy="856.9" r="0.7"/><circle cx="1655.5" cy="861.6" r="1.2"/><circle cx="1663.3" cy="873.1" r="0.7"/><circle cx="1660.7" cy="820.0" r="0.6"/><circle cx="1664.2" cy="846.6" r="0.7"/><circle cx="1667.0" cy="827.8" r="1.0"/><circle cx="1667.6" cy="824.8" r="0.8"/><circle cx="1666.7" cy="822.5" r="1.1"/><circle cx="1662.1" cy="823.6" r="1.1"/><circle cx="1653.5" cy="850.8" r="1.1"/><circle cx="1664.8" cy="837.6" r="0.7"/><circle cx="1662.3" cy="825.9" r="0.6"/><circle cx="1657.4" cy="841.4" r="0.7"/><circle cx="1657.9" cy="853.8" r="0.5"/><circle cx="1668.6" cy="835.7" r="0.9"/><circle cx="1651.6" cy="831.6" r="0.6"/><circle cx="1656.9" cy="875.8" r="1.1"/><circle cx="1651.0" cy="845.5" r="1.2"/><circle cx="1662.7" cy="840.6" r="0.9"/><circle cx="1656.7" cy="846.6" r="0.6"/><circle cx="1660.6" cy="822.2" r="0.6"/><circle cx="1666.0" cy="822.2" r="1.0"/><circle cx="1660.9" cy="838.6" r="0.8"/><circle cx="1658.6" cy="829.3" r="1.2"/><circle cx="1657.6" cy="885.9" r="1.2"/><circle cx="1659.9" cy="839.7" r="0.8"/><circle cx="1653.3" cy="851.2" r="0.9"/><circle cx="1659.0" cy="818.8" r="0.8"/><circle cx="1663.9" cy="821.0" r="0.7"/><circle cx="1649.1" cy="858.7" r="1.0"/><circle cx="1662.7" cy="867.4" r="0.7"/><circle cx="1664.9" cy="888.2" r="1.0"/><circle cx="1665.0" cy="819.3" r="0.9"/><circle cx="1660.9" cy="868.9" r="0.9"/><circle cx="1660.2" cy="851.8" r="1.1"/><circle cx="1661.8" cy="857.9" r="1.0"/><circle cx="1664.0" cy="834.2" r="0.8"/><circle cx="1664.4" cy="824.2" r="0.9"/><circle cx="1655.0" cy="860.8" r="0.5"/><circle cx="1661.3" cy="872.7" r="0.9"/><circle cx="1664.7" cy="864.8" r="0.7"/><circle cx="1660.2" cy="824.8" r="0.6"/><circle cx="1665.3" cy="869.6" r="0.8"/><circle cx="1653.1" cy="850.0" r="0.9"/><circle cx="1659.8" cy="863.3" r="0.7"/><circle cx="1658.2" cy="871.2" r="0.5"/><circle cx="1659.8" cy="823.7" r="1.0"/><circle cx="1657.0" cy="866.5" r="0.8"/><circle cx="1663.4" cy="852.1" r="0.6"/><circle cx="1661.5" cy="886.4" r="0.8"/><circle cx="1666.5" cy="875.2" r="0.7"/><circle cx="1664.8" cy="832.5" r="0.9"/><circle cx="1650.9" cy="827.5" r="0.6"/><circle cx="1652.3" cy="875.3" r="1.0"/><circle cx="1665.8" cy="833.5" r="0.5"/><circle cx="1654.2" cy="818.3" r="0.7"/><circle cx="1659.7" cy="828.6" r="1.1"/><circle cx="1659.1" cy="816.2" r="0.6"/><circle cx="1659.4" cy="880.8" r="0.7"/><circle cx="1645.5" cy="846.3" r="0.9"/><circle cx="1655.4" cy="843.6" r="0.5"/><circle cx="1663.3" cy="824.4" r="1.2"/><circle cx="1660.8" cy="836.6" r="0.6"/><circle cx="1667.3" cy="843.6" r="1.1"/><circle cx="1666.4" cy="860.9" r="0.9"/><circle cx="1666.5" cy="868.9" r="0.8"/><circle cx="1658.1" cy="870.0" r="0.5"/><circle cx="1665.2" cy="883.7" r="0.7"/><circle cx="1659.5" cy="836.1" r="0.7"/><circle cx="1656.1" cy="865.1" r="0.8"/><circle cx="1663.6" cy="830.3" r="1.1"/><circle cx="1657.9" cy="854.9" r="1.2"/><circle cx="1658.5" cy="850.0" r="0.6"/><circle cx="1662.0" cy="842.3" r="0.7"/><circle cx="1661.9" cy="856.8" r="0.8"/><circle cx="1653.0" cy="846.8" r="0.7"/><circle cx="1658.6" cy="824.9" r="0.6"/><circle cx="1649.9" cy="851.8" r="0.7"/><circle cx="1661.0" cy="838.0" r="0.8"/><circle cx="1666.5" cy="883.1" r="0.5"/><circle cx="1657.5" cy="818.2" r="0.8"/><circle cx="1661.0" cy="859.1" r="1.1"/><circle cx="1669.1" cy="873.7" r="0.7"/><circle cx="1664.6" cy="826.6" r="1.0"/><circle cx="1660.3" cy="882.5" r="1.0"/><circle cx="1655.3" cy="849.9" r="1.0"/><circle cx="1667.3" cy="833.6" r="0.7"/><circle cx="1661.7" cy="828.4" r="1.0"/><circle cx="1666.5" cy="826.4" r="0.9"/><circle cx="1659.0" cy="846.5" r="0.5"/><circle cx="1649.2" cy="839.7" r="1.0"/><circle cx="1658.7" cy="880.0" r="0.7"/><circle cx="1660.0" cy="884.4" r="0.5"/><circle cx="1653.9" cy="852.0" r="0.7"/><circle cx="1661.1" cy="864.4" r="0.5"/><circle cx="1653.3" cy="842.4" r="0.6"/><circle cx="1661.0" cy="872.6" r="0.6"/><circle cx="1657.8" cy="887.6" r="0.7"/><circle cx="1662.0" cy="832.7" r="1.2"/><circle cx="1657.3" cy="853.4" r="0.8"/><circle cx="1660.5" cy="864.4" r="0.8"/><circle cx="1664.3" cy="832.8" r="0.5"/><circle cx="1653.0" cy="823.5" r="1.1"/><circle cx="1670.3" cy="869.3" r="0.7"/><circle cx="1668.8" cy="830.3" r="0.5"/><circle cx="1655.0" cy="865.2" r="0.7"/><circle cx="1665.6" cy="829.9" r="0.7"/><circle cx="1669.5" cy="886.7" r="0.6"/><circle cx="1662.4" cy="841.3" r="0.8"/><circle cx="1656.0" cy="821.6" r="1.1"/><circle cx="1655.6" cy="833.1" r="0.5"/><circle cx="1660.3" cy="845.2" r="0.5"/><circle cx="1669.3" cy="821.3" r="0.7"/><circle cx="1663.6" cy="869.8" r="0.7"/><circle cx="1658.6" cy="884.5" r="1.0"/><circle cx="1659.8" cy="840.2" r="1.0"/><circle cx="1654.6" cy="880.4" r="0.5"/><circle cx="1650.4" cy="834.8" r="1.2"/><circle cx="1658.0" cy="846.1" r="0.8"/><circle cx="1664.9" cy="884.6" r="1.0"/><circle cx="1662.6" cy="874.2" r="0.7"/><circle cx="1654.7" cy="841.7" r="0.6"/><circle cx="1662.0" cy="831.1" r="0.5"/><circle cx="1656.1" cy="820.1" r="1.2"/><circle cx="1665.5" cy="879.8" r="0.6"/><circle cx="1654.2" cy="824.8" r="0.8"/><circle cx="1656.2" cy="835.1" r="1.0"/><circle cx="1664.1" cy="869.1" r="0.6"/><circle cx="1660.3" cy="878.1" r="0.8"/><circle cx="1661.1" cy="870.4" r="0.7"/><circle cx="1666.4" cy="827.9" r="0.7"/><circle cx="1663.1" cy="845.7" r="0.7"/><circle cx="1653.6" cy="872.1" r="0.6"/><circle cx="1659.9" cy="849.5" r="1.1"/><circle cx="1659.5" cy="821.3" r="0.6"/><circle cx="1651.9" cy="885.0" r="0.8"/><circle cx="1658.7" cy="878.9" r="1.0"/><circle cx="1666.1" cy="885.0" r="0.9"/><circle cx="1660.1" cy="833.6" r="0.6"/><circle cx="1655.9" cy="835.0" r="0.6"/><circle cx="1656.1" cy="820.1" r="0.6"/><circle cx="1662.3" cy="841.6" r="0.9"/><circle cx="1664.2" cy="823.0" r="0.9"/><circle cx="1659.7" cy="863.1" r="1.0"/><circle cx="1656.6" cy="847.5" r="1.2"/><circle cx="1656.1" cy="839.5" r="0.8"/><circle cx="1666.3" cy="878.5" r="0.6"/><circle cx="1659.9" cy="869.1" r="1.1"/><circle cx="1659.1" cy="846.7" r="1.1"/><circle cx="1656.9" cy="850.4" r="0.9"/><circle cx="1659.2" cy="862.6" r="0.9"/><circle cx="1655.9" cy="843.9" r="0.7"/><circle cx="1657.9" cy="854.3" r="0.8"/><circle cx="1664.4" cy="874.2" r="0.6"/><circle cx="1666.5" cy="883.8" r="0.5"/><circle cx="1654.2" cy="884.2" r="0.9"/><circle cx="1665.9" cy="877.2" r="0.7"/><circle cx="1662.4" cy="844.8" r="0.6"/><circle cx="1657.4" cy="834.0" r="0.8"/><circle cx="1661.8" cy="828.2" r="1.1"/><circle cx="1653.1" cy="820.2" r="0.5"/><circle cx="1666.4" cy="877.6" r="0.9"/><circle cx="1655.6" cy="862.9" r="0.9"/><circle cx="1654.4" cy="846.9" r="0.8"/><circle cx="1655.8" cy="818.8" r="0.7"/><circle cx="1661.6" cy="870.4" r="0.6"/><circle cx="1658.1" cy="851.5" r="0.8"/><circle cx="1656.2" cy="824.8" r="0.5"/><circle cx="1663.8" cy="863.4" r="1.0"/><circle cx="1661.0" cy="854.2" r="0.8"/><circle cx="1667.1" cy="886.1" r="1.2"/><circle cx="1661.1" cy="868.6" r="1.2"/><circle cx="1665.8" cy="851.8" r="0.6"/><circle cx="1662.7" cy="873.0" r="0.7"/><circle cx="1665.7" cy="872.7" r="0.7"/><circle cx="1664.9" cy="876.0" r="1.1"/><circle cx="1661.4" cy="833.8" r="0.7"/><circle cx="1661.1" cy="821.1" r="1.2"/><circle cx="1660.7" cy="865.2" r="1.0"/><circle cx="1655.3" cy="825.8" r="0.8"/></g>
</g></g>
<g fill="none" stroke-width="2.2">
<rect x="1704.7" y="735" width="62.1" height="71.7" stroke="#86c8f0"/>
<rect x="1791.5" y="735" width="63.3" height="71.7" stroke="#86c8f0"/>
<rect x="1628.7" y="814.3" width="62.7" height="72.9" stroke="#f08080"/>
<rect x="1858.4" y="814.3" width="62.1" height="72.9" stroke="#f08080"/>
<rect x="1530" y="848.6" width="62.5" height="72.4" stroke="#f8c078"/>
<rect x="1970.2" y="848.6" width="63.4" height="72.4" stroke="#f8c078"/>
</g>
<g fill="#fff">
<path d="M1750.8 798.3 L1792.4 824.5 L1776.4 840.5 Z"/>
<path d="M1670.3 851 L1712.5 876.7 L1697.4 893.2 Z"/>
<path d="M1558.7 894.7 L1601 921 L1585 937 Z"/>
</g>
<text x="1521" y="1060.6" font-size="32" fill="#fff">L</text>
<text x="2014" y="1060.6" font-size="32" fill="#fff">R</text>
<rect x="1719" y="1048.5" width="119.2" height="9.5" fill="#fff"/>

<text x="36" y="1213" class="b" font-size="43">C</text>
<text x="450" y="1197.6" class="b" font-size="32" text-anchor="middle">Motor-related regions</text>
<g filter="url(#soft)">
<path d="M444.3 1244.8 C442.9 1243.5 444.9 1237.6 438.5 1233.0 C432.1 1228.4 433.6 1222.0 409.3 1219.5 C385.0 1217.0 333.9 1217.0 306.0 1219.5 C278.1 1222.0 272.2 1227.6 257.2 1233.0 C242.2 1238.4 236.5 1239.7 224.0 1248.7 C211.5 1257.7 198.3 1270.1 189.0 1281.9 C179.7 1293.7 178.8 1299.4 173.4 1313.0 C168.0 1326.6 162.6 1341.0 159.7 1356.0 C156.8 1371.0 156.7 1378.9 157.8 1395.0 C158.9 1411.1 160.6 1426.6 165.6 1443.7 C170.6 1460.8 176.1 1475.3 185.0 1488.5 C193.9 1501.7 202.8 1507.9 214.3 1515.8 C225.8 1523.7 236.4 1523.5 247.5 1531.4 C258.6 1539.3 263.0 1553.3 274.8 1558.7 C286.6 1564.1 297.2 1564.9 311.8 1560.6 C326.4 1556.3 341.5 1541.4 354.7 1535.3 C367.9 1529.2 371.5 1531.1 384.0 1527.5 C396.5 1523.9 412.5 1519.4 423.0 1515.8 C433.5 1512.2 436.6 1507.3 441.5 1508.0 C446.4 1508.7 440.9 1515.5 449.5 1519.8 C458.1 1524.1 476.0 1524.6 488.5 1531.4 C501.0 1538.2 503.4 1550.7 517.7 1556.8 C532.0 1562.9 550.4 1566.4 566.5 1564.6 C582.6 1562.8 591.2 1552.4 605.5 1547.0 C619.8 1541.6 630.2 1541.7 644.5 1535.3 C658.8 1528.9 671.0 1525.2 683.5 1512.0 C696.0 1498.8 705.2 1481.1 712.7 1463.2 C720.2 1445.3 722.6 1434.2 724.4 1414.5 C726.2 1394.8 724.6 1375.7 722.5 1356.0 C720.4 1336.3 718.1 1321.5 712.7 1307.2 C707.3 1292.9 703.9 1288.7 693.2 1278.0 C682.5 1267.3 671.0 1257.3 654.2 1248.7 C637.4 1240.1 626.6 1237.3 601.6 1231.2 C576.6 1225.1 540.2 1217.7 517.7 1215.6 C495.2 1213.5 491.8 1215.0 478.7 1219.5 C465.6 1224.0 452.3 1235.4 446.0 1240.0 C439.7 1244.6 445.7 1246.1 444.3 1244.8 Z" fill="#a0a0a0"/>
<ellipse cx="398" cy="1385" rx="24" ry="62" fill="#8c8c8c"/>
<ellipse cx="488" cy="1385" rx="24" ry="62" fill="#8c8c8c"/>
<ellipse cx="441" cy="1490" rx="60" ry="30" fill="#b0b0b0"/>
<ellipse cx="300" cy="1520" rx="55" ry="22" fill="#b4b4b4"/>
<ellipse cx="585" cy="1520" rx="55" ry="22" fill="#b4b4b4"/>
<ellipse cx="295" cy="1550" rx="25" ry="10" fill="#6e6e6e"/>
<ellipse cx="590" cy="1550" rx="25" ry="10" fill="#6e6e6e"/>
<ellipse cx="441" cy="1390" rx="25" ry="60" fill="#a8a8a8"/>
<path d="M230 1356 C 250 1320, 290 1298, 340 1296 C 390 1294, 420 1305, 441 1312 C 462 1305, 492 1294, 542 1296 C 592 1298, 632 1320, 652 1356" fill="none" stroke="#f6f6f6" stroke-width="17"/>
<path d="M381 1312 L 384 1336 L 390 1336 L 392 1312 Z" fill="#f2f2f2"/>
<ellipse cx="370" cy="1447.6" rx="14" ry="8" fill="#f4f4f4"/>
<ellipse cx="483" cy="1452" rx="14" ry="8" fill="#f4f4f4"/>
</g>
<path d="M267.0 1301.4 C289.2 1296.3 335.2 1298.3 354.7 1301.4 C374.2 1304.5 362.1 1302.2 364.4 1317.0 C366.7 1331.8 368.3 1355.9 366.4 1375.4 C364.5 1394.9 362.9 1398.8 354.7 1414.4 C346.5 1430.0 342.9 1439.0 325.4 1453.4 C307.9 1467.8 283.4 1482.6 267.0 1486.5 C250.6 1490.4 252.2 1487.3 243.6 1472.9 C235.0 1458.5 227.1 1435.8 224.0 1414.4 C220.9 1393.0 224.1 1383.2 228.0 1365.7 C231.9 1348.2 235.8 1339.6 243.6 1326.7 C251.4 1313.8 244.8 1306.5 267.0 1301.4 Z" fill="#f07878" fill-opacity="0.4" stroke="#f07070" stroke-width="2.6" stroke-dasharray="7 4"/>
<path d="M511.9 1315.0 C517.7 1306.8 522.4 1306.1 537.2 1305.3 C552.0 1304.5 568.4 1305.6 586.0 1311.1 C603.6 1316.6 612.5 1321.7 625.0 1332.6 C637.5 1343.5 642.2 1351.3 648.4 1365.7 C654.6 1380.1 655.4 1387.1 656.2 1404.7 C657.0 1422.3 656.6 1435.9 652.3 1453.5 C648.0 1471.1 643.3 1482.4 634.7 1492.5 C626.1 1502.6 619.9 1506.2 609.4 1504.2 C598.9 1502.2 594.6 1492.8 582.1 1482.7 C569.6 1472.6 559.9 1466.0 547.0 1453.5 C534.1 1441.0 525.5 1434.0 517.7 1420.3 C509.9 1406.6 509.9 1400.0 508.0 1385.2 C506.1 1370.4 507.2 1360.2 508.0 1346.2 C508.8 1332.2 506.1 1323.2 511.9 1315.0 Z" fill="#f07878" fill-opacity="0.4" stroke="#f07070" stroke-width="2.6" stroke-dasharray="7 4"/>
<path d="M181.2 1326.7 C193.7 1325.9 214.6 1341.4 224.0 1348.0 C233.4 1354.6 229.9 1352.4 228.0 1359.8 C226.1 1367.2 226.0 1381.7 214.3 1385.2 C202.6 1388.7 180.0 1384.0 169.5 1377.4 C159.0 1370.8 159.4 1362.1 161.7 1352.0 C164.0 1341.9 168.7 1327.5 181.2 1326.7 Z" fill="#f8b040" fill-opacity="0.4" stroke="#f8b860" stroke-width="2.6" stroke-dasharray="7 4"/>
<path d="M660.0 1369.6 C670.5 1363.8 700.2 1356.8 712.7 1356.0 C725.2 1355.2 720.5 1357.9 722.5 1365.7 C724.5 1373.5 724.5 1386.8 722.5 1395.0 C720.5 1403.2 724.4 1404.4 712.7 1406.7 C701.0 1409.0 674.5 1411.0 664.0 1406.7 C653.5 1402.4 660.8 1392.6 660.0 1385.2 C659.2 1377.8 649.5 1375.4 660.0 1369.6 Z" fill="#f8b040" fill-opacity="0.4" stroke="#f8b860" stroke-width="2.6" stroke-dasharray="7 4"/>
<path d="M292.3 1233.0 C297.9 1229.2 353.3 1216.4 362.5 1220.5 C371.7 1224.6 381.5 1267.5 384.0 1274.0 C386.5 1280.5 394.1 1284.8 387.8 1285.8 C381.6 1286.8 329.7 1286.5 321.5 1283.8 C313.3 1281.1 308.9 1263.6 306.0 1258.5 C303.1 1253.4 286.7 1236.8 292.3 1233.0 Z" fill="#70b8f0" fill-opacity="0.4" stroke="#70c0f0" stroke-width="2.6" stroke-dasharray="7 4"/>
<path d="M537.2 1223.4 C545.0 1221.1 594.1 1231.6 599.6 1235.1 C605.1 1238.6 594.1 1253.2 591.8 1258.5 C589.5 1263.8 579.7 1284.4 576.2 1287.7 C572.7 1291.0 563.5 1292.2 556.7 1291.6 C549.9 1291.0 511.5 1285.2 508.0 1281.9 C504.5 1278.6 518.7 1264.3 521.6 1258.5 C524.5 1252.7 529.4 1225.7 537.2 1223.4 Z" fill="#70b8f0" fill-opacity="0.4" stroke="#70c0f0" stroke-width="2.6" stroke-dasharray="7 4"/>
<path d="M362.5 1220.5 C367.2 1216.8 426.6 1231.7 430.7 1237.0 C434.8 1242.3 407.5 1269.1 403.4 1274.0 C399.3 1278.9 391.7 1285.8 389.8 1285.8 C387.9 1285.8 386.7 1280.5 384.0 1274.0 C381.3 1267.5 357.8 1224.2 362.5 1220.5 Z" fill="#7070f0" fill-opacity="0.4" stroke="#7070f0" stroke-width="2.6" stroke-dasharray="7 4"/>
<path d="M465.1 1244.8 C466.1 1240.7 481.3 1229.4 488.5 1227.3 C495.7 1225.2 533.9 1220.3 537.2 1223.4 C540.5 1226.5 524.5 1252.7 521.6 1258.5 C518.7 1264.3 510.3 1279.4 508.0 1281.9 C505.7 1284.4 501.1 1285.2 498.2 1283.8 C495.3 1282.4 482.0 1272.1 478.7 1268.2 C475.4 1264.3 464.1 1248.9 465.1 1244.8 Z" fill="#7070f0" fill-opacity="0.4" stroke="#7070f0" stroke-width="2.6" stroke-dasharray="7 4"/>
<path d="M393.7 1289.7 C399.2 1284.8 428.4 1266.2 436.5 1268.2 C444.6 1270.2 442.1 1295.2 442.4 1301.4 C442.7 1307.6 445.0 1306.0 438.5 1305.3 C432.0 1304.6 410.9 1300.1 403.4 1297.5 C395.9 1294.9 388.2 1294.6 393.7 1289.7 Z" fill="#60e060" fill-opacity="0.4" stroke="#70e070" stroke-width="2.6" stroke-dasharray="7 4"/>
<path d="M447.5 1274.1 C450.8 1267.9 461.2 1266.2 469.0 1268.2 C476.8 1270.2 492.7 1280.3 494.3 1285.8 C495.9 1291.3 486.2 1298.2 478.7 1301.4 C471.2 1304.7 454.7 1309.8 449.5 1305.3 C444.3 1300.8 444.2 1280.3 447.5 1274.1 Z" fill="#60e060" fill-opacity="0.4" stroke="#70e070" stroke-width="2.6" stroke-dasharray="7 4"/>
<path d="M445 1268 L 424.6 1515.7" stroke="#fff" stroke-width="4.5" stroke-dasharray="16 9"/>
<text x="439.5" y="1562" font-size="32" text-anchor="middle">2mm</text>
<rect x="374.7" y="1574" width="129.7" height="9.6" fill="#000"/>
<text x="197" y="1585" font-size="32">L</text>
<text x="666" y="1585" font-size="32">R</text>
<rect x="772" y="1251.5" width="72" height="40" rx="16" fill="#fdd0d0" stroke="#f07070" stroke-width="2.6" stroke-dasharray="7 4"/>
<text x="869" y="1282.0" font-size="32">CPu</text>
<rect x="772" y="1312.0" width="72" height="40" rx="16" fill="#d0ecfc" stroke="#70c0f0" stroke-width="2.6" stroke-dasharray="7 4"/>
<text x="869" y="1342.5" font-size="32">M1</text>
<rect x="772" y="1372.5" width="72" height="40" rx="16" fill="#d4d4fa" stroke="#7878e8" stroke-width="2.6" stroke-dasharray="7 4"/>
<text x="869" y="1403.0" font-size="32">M2</text>
<rect x="772" y="1433.0" width="72" height="40" rx="16" fill="#fde6c6" stroke="#f8b860" stroke-width="2.6" stroke-dasharray="7 4"/>
<text x="869" y="1463.5" font-size="32">S2</text>
<rect x="772" y="1493.5" width="72" height="40" rx="16" fill="#d4f7d4" stroke="#70e070" stroke-width="2.6" stroke-dasharray="7 4"/>
<text x="869" y="1524.0" font-size="32">A24a</text>

<g id="chartC">
<rect x="1188.6" y="1442.8" width="46.5" height="140.0" fill="#ff7f7f" stroke="#262626" stroke-width="3"/>
<rect x="1250.1" y="1458.1" width="46.5" height="124.7" fill="#ffc0c0" stroke="#262626" stroke-width="3"/>
<path d="M1211.8 1442.8V1269.7M1206.8 1269.7h10M1273.3 1458.1V1310.4M1268.3 1310.4h10" stroke="#262626" stroke-width="3" fill="none"/>
<path d="M1210 1257.2H1275" stroke="#000" stroke-width="3"/>
<path d="M1226.4 1231.8V1243.6M1221.3 1234.8L1231.5 1240.7M1221.3 1240.7L1231.5 1234.8" stroke="#000" stroke-width="2.7"/><path d="M1242.6 1231.8V1243.6M1237.5 1234.8L1247.7 1240.7M1237.5 1240.7L1247.7 1234.8" stroke="#000" stroke-width="2.7"/><path d="M1258.8 1231.8V1243.6M1253.7 1234.8L1263.9 1240.7M1253.7 1240.7L1263.9 1234.8" stroke="#000" stroke-width="2.7"/>
<text x="1242.6" y="1621" font-size="30" fill="#262626" text-anchor="middle">CPu</text>
<rect x="1342.5" y="1468.3" width="46.5" height="114.5" fill="#7fc8ff" stroke="#262626" stroke-width="3"/>
<rect x="1404.0" y="1473.4" width="46.5" height="109.4" fill="#c0f8ff" stroke="#262626" stroke-width="3"/>
<path d="M1365.8 1468.3V1374.1M1360.8 1374.1h10M1427.2 1473.4V1376.6M1422.2 1376.6h10" stroke="#262626" stroke-width="3" fill="none"/>
<path d="M1363.4 1361.2H1428.6" stroke="#000" stroke-width="3"/>
<path d="M1388.4 1335.8V1347.6M1383.3 1338.8L1393.5 1344.7M1383.3 1344.7L1393.5 1338.8" stroke="#000" stroke-width="2.7"/><path d="M1404.6 1335.8V1347.6M1399.5 1338.8L1409.7 1344.7M1399.5 1344.7L1409.7 1338.8" stroke="#000" stroke-width="2.7"/>
<text x="1396.5" y="1621" font-size="30" fill="#262626" text-anchor="middle">M1</text>
<rect x="1496.4" y="1440.3" width="46.5" height="142.5" fill="#8080f0" stroke="#262626" stroke-width="3"/>
<rect x="1557.9" y="1445.4" width="46.5" height="137.4" fill="#c4c8ff" stroke="#262626" stroke-width="3"/>
<path d="M1519.7 1440.3V1341.0M1514.7 1341.0h10M1581.2 1445.4V1330.8M1576.2 1330.8h10" stroke="#262626" stroke-width="3" fill="none"/>
<path d="M1517.3 1321.2H1582" stroke="#000" stroke-width="3"/>
<path d="M1550.4 1295.8V1307.6M1545.3 1298.8L1555.5 1304.7M1545.3 1304.7L1555.5 1298.8" stroke="#000" stroke-width="2.7"/>
<text x="1550.4" y="1621" font-size="30" fill="#262626" text-anchor="middle">M2</text>
<rect x="1649.8" y="1478.4" width="46.5" height="104.4" fill="#ffc080" stroke="#262626" stroke-width="3"/>
<rect x="1711.3" y="1491.2" width="46.5" height="91.6" fill="#ffffa8" stroke="#262626" stroke-width="3"/>
<path d="M1673.0 1478.4V1397.0M1668.0 1397.0h10M1734.5 1491.2V1427.5M1729.5 1427.5h10" stroke="#262626" stroke-width="3" fill="none"/>
<path d="M1672.3 1384.3H1737.4" stroke="#000" stroke-width="3"/>
<path d="M1687.6 1358.9V1370.7M1682.5 1361.8L1692.7 1367.8M1682.5 1367.8L1692.7 1361.8" stroke="#000" stroke-width="2.7"/><path d="M1703.8 1358.9V1370.7M1698.7 1361.8L1708.9 1367.8M1698.7 1367.8L1708.9 1361.8" stroke="#000" stroke-width="2.7"/><path d="M1720.0 1358.9V1370.7M1714.9 1361.8L1725.1 1367.8M1714.9 1367.8L1725.1 1361.8" stroke="#000" stroke-width="2.7"/>
<text x="1703.8" y="1621" font-size="30" fill="#262626" text-anchor="middle">S2</text>
<rect x="1804.7" y="1463.2" width="46.5" height="119.6" fill="#80f080" stroke="#262626" stroke-width="3"/>
<rect x="1866.2" y="1473.4" width="46.5" height="109.4" fill="#d8ffd0" stroke="#262626" stroke-width="3"/>
<path d="M1828.0 1463.2V1369.0M1823.0 1369.0h10M1889.5 1473.4V1371.5M1884.5 1371.5h10" stroke="#262626" stroke-width="3" fill="none"/>
<path d="M1826.7 1357.5H1891.3" stroke="#000" stroke-width="3"/>
<path d="M1850.6 1332.1V1343.9M1845.5 1335.0L1855.7 1341.0M1845.5 1341.0L1855.7 1335.0" stroke="#000" stroke-width="2.7"/><path d="M1866.8 1332.1V1343.9M1861.7 1335.0L1871.9 1341.0M1861.7 1341.0L1871.9 1335.0" stroke="#000" stroke-width="2.7"/>
<text x="1858.7" y="1621" font-size="30" fill="#262626" text-anchor="middle">A24a</text>
<rect x="1150.7" y="1201" width="801.0" height="381.8" fill="none" stroke="#262626" stroke-width="3"/>
<path d="M1150.7 1582.8h6M1951.7 1582.8h-6M1150.7 1455.5h6M1951.7 1455.5h-6M1150.7 1328.3h6M1951.7 1328.3h-6M1150.7 1201.0h6M1951.7 1201.0h-6M1242.6 1582.8v-6M1242.6 1201v6M1396.5 1582.8v-6M1396.5 1201v6M1550.4 1582.8v-6M1550.4 1201v6M1703.8 1582.8v-6M1703.8 1201v6M1858.7 1582.8v-6M1858.7 1201v6" stroke="#262626" stroke-width="3"/>
<g font-size="30" fill="#262626" text-anchor="end">
<text x="1140.2" y="1593.4">0.000</text>
<text x="1140.2" y="1466.1">0.005</text>
<text x="1140.2" y="1338.9">0.010</text>
<text x="1140.2" y="1211.6">0.015</text>
</g>
<text x="1669.6" y="1250.3" font-size="27.8" fill="#000">Dark color: left side</text>
<text x="1669.6" y="1282.4" font-size="27.8" fill="#000">Light color: right side</text>
<text transform="translate(1048 1384.5) rotate(-90)" class="b" font-size="32" fill="#262626" text-anchor="middle">|χ<tspan font-size="22" dy="5">dia</tspan><tspan dy="-5">| (ppm)</tspan></text>
</g>

<text x="36" y="1673.7" class="b" font-size="43">D</text>
<text x="360.5" y="1690" class="b" font-size="32" text-anchor="middle">Somatosensory cortex</text>
<text x="1044.5" y="1690" class="b" font-size="32" text-anchor="middle">Caudate putamen</text>
<text x="1728.9" y="1690" class="b" font-size="32.5" text-anchor="middle">Motor cortex</text>
<defs><linearGradient id="pg0" x1="0" y1="0" x2="0" y2="1"><stop offset="0" stop-color="#474747"/><stop offset="1" stop-color="#535353"/></linearGradient><clipPath id="pc0"><rect x="37.3" y="1716.3" width="313.3" height="364.2"/></clipPath></defs>
<rect x="34.8" y="1713.8" width="318.3" height="369.2" rx="2" fill="url(#pg0)" stroke="#f9be6e" stroke-width="5"/>
<g clip-path="url(#pc0)">
<rect x="32.3" y="1711.3" width="323.3" height="374.2" filter="url(#gnoise)" opacity="0.22"/>
<ellipse cx="170" cy="1850" rx="90" ry="70" fill="#505050" opacity="0.12" filter="url(#blur12)"/>
<path d="M37 1760 C 55 1765, 75 1772, 90 1781 C 70 1778, 50 1774, 37 1772 Z" fill="#000"/>
<ellipse cx="295" cy="1954" rx="3.5" ry="4.5" fill="#000"/>
<ellipse cx="133" cy="1960" rx="60" ry="25" fill="#7a7a7a" opacity="0.25" filter="url(#blur12)"/>
<g fill="#f44a4a"><ellipse cx="231.3" cy="1920.9" rx="2.7" ry="1.2" transform="rotate(137 231.3 1920.9)"/><ellipse cx="271.2" cy="1780.0" rx="3.3" ry="1.5" transform="rotate(86 271.2 1780.0)"/><ellipse cx="198.0" cy="1998.0" rx="2.8" ry="1.2" transform="rotate(157 198.0 1998.0)"/><ellipse cx="305.5" cy="1765.8" rx="2.5" ry="1.1" transform="rotate(97 305.5 1765.8)"/><ellipse cx="310.4" cy="1768.0" rx="3.2" ry="1.4" transform="rotate(56 310.4 1768.0)"/><circle cx="233.6" cy="1912.2" r="2.4"/><circle cx="227.9" cy="1967.7" r="1.6"/><ellipse cx="201.0" cy="1942.8" rx="1.9" ry="0.8" transform="rotate(61 201.0 1942.8)"/><ellipse cx="166.4" cy="2013.7" rx="2.9" ry="1.3" transform="rotate(40 166.4 2013.7)"/><circle cx="307.1" cy="1750.4" r="1.1"/><circle cx="188.9" cy="1947.6" r="1.3"/><ellipse cx="150.4" cy="2025.6" rx="3.5" ry="1.5" transform="rotate(43 150.4 2025.6)"/><ellipse cx="159.6" cy="1952.0" rx="3.1" ry="1.4" transform="rotate(24 159.6 1952.0)"/><circle cx="222.4" cy="1897.3" r="2.3"/><circle cx="271.1" cy="1809.7" r="1.7"/><ellipse cx="285.4" cy="1812.4" rx="3.4" ry="1.5" transform="rotate(17 285.4 1812.4)"/><circle cx="203.3" cy="1928.8" r="1.6"/><circle cx="270.7" cy="1833.7" r="1.7"/><circle cx="204.8" cy="1915.6" r="1.9"/><circle cx="213.0" cy="1956.7" r="1.1"/><circle cx="150.2" cy="2002.3" r="1.5"/><ellipse cx="228.2" cy="1910.0" rx="2.2" ry="0.9" transform="rotate(81 228.2 1910.0)"/><ellipse cx="290.0" cy="1806.7" rx="2.5" ry="1.1" transform="rotate(45 290.0 1806.7)"/><circle cx="279.1" cy="1849.8" r="2.3"/><circle cx="170.8" cy="2005.5" r="2.2"/><circle cx="268.7" cy="1842.3" r="1.1"/><circle cx="268.5" cy="1833.4" r="2.2"/><circle cx="231.4" cy="1797.3" r="2.3"/><circle cx="262.4" cy="1902.9" r="1.2"/><circle cx="238.9" cy="1885.2" r="1.3"/><circle cx="265.0" cy="1751.6" r="1.1"/><ellipse cx="264.0" cy="1863.9" rx="3.8" ry="1.7" transform="rotate(141 264.0 1863.9)"/><circle cx="113.2" cy="2011.7" r="1.6"/><circle cx="216.4" cy="1982.7" r="2.3"/><circle cx="194.2" cy="1928.2" r="1.8"/><ellipse cx="231.6" cy="1929.8" rx="1.9" ry="0.9" transform="rotate(174 231.6 1929.8)"/><circle cx="280.6" cy="1858.3" r="1.8"/><ellipse cx="255.6" cy="1813.7" rx="3.3" ry="1.4" transform="rotate(105 255.6 1813.7)"/><circle cx="188.8" cy="1986.4" r="1.7"/><circle cx="206.6" cy="1913.4" r="1.2"/><ellipse cx="164.6" cy="1947.1" rx="1.8" ry="0.8" transform="rotate(107 164.6 1947.1)"/><ellipse cx="248.5" cy="1888.5" rx="3.1" ry="1.4" transform="rotate(22 248.5 1888.5)"/><ellipse cx="339.3" cy="1732.2" rx="3.6" ry="1.6" transform="rotate(107 339.3 1732.2)"/><circle cx="186.1" cy="1977.7" r="1.9"/><circle cx="190.1" cy="1983.8" r="1.8"/></g>
<g fill="#f44a4a"><ellipse cx="329.8" cy="1793.5" rx="2.7" ry="1.2" transform="rotate(71 329.8 1793.5)"/><circle cx="248.2" cy="1828.0" r="1.3"/><circle cx="62.5" cy="1885.0" r="2.0"/><circle cx="62.7" cy="1796.7" r="1.3"/><ellipse cx="313.1" cy="2036.5" rx="2.2" ry="1.0" transform="rotate(150 313.1 2036.5)"/><circle cx="258.1" cy="1940.2" r="2.0"/></g>
</g>
<defs><linearGradient id="pg1" x1="0" y1="0" x2="0" y2="1"><stop offset="0" stop-color="#676767"/><stop offset="1" stop-color="#636363"/></linearGradient><clipPath id="pc1"><rect x="372.6" y="1716.3" width="311.7" height="364.2"/></clipPath></defs>
<rect x="370.1" y="1713.8" width="316.7" height="369.2" rx="2" fill="url(#pg1)" stroke="#f9be6e" stroke-width="5"/>
<g clip-path="url(#pc1)">
<rect x="367.6" y="1711.3" width="321.7" height="374.2" filter="url(#gnoise)" opacity="0.22"/>
<ellipse cx="488" cy="1745" rx="21" ry="8" fill="#000" transform="rotate(-10 488 1745)"/>
<ellipse cx="428" cy="2041" rx="3" ry="5" fill="#000"/><ellipse cx="431" cy="2068" rx="3" ry="4" fill="#000"/>
<ellipse cx="400" cy="1950" rx="25" ry="120" fill="#4e4e4e" opacity="0.35" filter="url(#blur12)"/>
<ellipse cx="689" cy="2000" rx="5" ry="18" fill="#000"/>
<g fill="#f44a4a"><circle cx="451.2" cy="2005.1" r="1.2"/><ellipse cx="590.8" cy="1800.3" rx="1.7" ry="0.8" transform="rotate(100 590.8 1800.3)"/><ellipse cx="490.9" cy="1941.4" rx="2.5" ry="1.1" transform="rotate(114 490.9 1941.4)"/><circle cx="489.6" cy="1906.6" r="1.7"/><ellipse cx="463.8" cy="1887.1" rx="2.0" ry="0.9" transform="rotate(139 463.8 1887.1)"/><circle cx="545.6" cy="1838.6" r="1.6"/><circle cx="514.2" cy="1762.9" r="1.1"/><circle cx="585.6" cy="1923.7" r="1.7"/><circle cx="472.2" cy="1798.2" r="1.2"/><ellipse cx="569.4" cy="2018.2" rx="2.8" ry="1.2" transform="rotate(45 569.4 2018.2)"/><circle cx="465.4" cy="1994.0" r="1.7"/><circle cx="543.1" cy="1806.4" r="1.7"/></g>
</g>
<defs><linearGradient id="pg2" x1="0" y1="0" x2="0" y2="1"><stop offset="0" stop-color="#444444"/><stop offset="1" stop-color="#404040"/></linearGradient><clipPath id="pc2"><rect x="721.4" y="1716.3" width="312.9" height="364.2"/></clipPath></defs>
<rect x="718.9" y="1713.8" width="317.9" height="369.2" rx="2" fill="url(#pg2)" stroke="#f47c7c" stroke-width="5"/>
<g clip-path="url(#pc2)">
<rect x="716.4" y="1711.3" width="322.9" height="374.2" filter="url(#gnoise)" opacity="0.22"/>
<ellipse cx="790" cy="1740" rx="80" ry="45" fill="#6a6a6a" opacity="0.45" filter="url(#blur12)"/>
<g fill="#ff4848"><ellipse cx="878.2" cy="2063.8" rx="1.7" ry="0.8" transform="rotate(81 878.2 2063.8)"/><circle cx="904.6" cy="1732.9" r="1.0"/><ellipse cx="878.4" cy="2048.0" rx="1.5" ry="0.6" transform="rotate(147 878.4 2048.0)"/><circle cx="872.9" cy="2013.3" r="2.2"/><circle cx="911.9" cy="1761.0" r="1.5"/><circle cx="901.6" cy="1801.8" r="1.4"/><ellipse cx="896.4" cy="1831.4" rx="2.5" ry="1.1" transform="rotate(6 896.4 1831.4)"/><ellipse cx="906.9" cy="1736.0" rx="3.0" ry="1.3" transform="rotate(49 906.9 1736.0)"/><ellipse cx="882.7" cy="2028.2" rx="2.6" ry="1.1" transform="rotate(82 882.7 2028.2)"/><circle cx="854.1" cy="1953.8" r="1.9"/><ellipse cx="891.1" cy="1913.3" rx="2.6" ry="1.1" transform="rotate(21 891.1 1913.3)"/><circle cx="882.6" cy="2070.3" r="1.9"/><circle cx="903.9" cy="1820.3" r="1.4"/><circle cx="871.9" cy="1983.5" r="1.0"/><circle cx="874.9" cy="1906.7" r="1.6"/><circle cx="896.2" cy="1815.0" r="1.0"/><ellipse cx="852.1" cy="2049.2" rx="3.0" ry="1.3" transform="rotate(180 852.1 2049.2)"/><ellipse cx="872.3" cy="1984.0" rx="2.4" ry="1.0" transform="rotate(147 872.3 1984.0)"/><circle cx="900.3" cy="1749.0" r="1.5"/><ellipse cx="903.5" cy="1833.3" rx="3.1" ry="1.3" transform="rotate(146 903.5 1833.3)"/><circle cx="890.9" cy="1833.0" r="1.7"/><circle cx="889.1" cy="1867.8" r="1.8"/><ellipse cx="905.8" cy="1872.1" rx="1.8" ry="0.8" transform="rotate(37 905.8 1872.1)"/><ellipse cx="864.0" cy="2040.9" rx="1.9" ry="0.8" transform="rotate(63 864.0 2040.9)"/><circle cx="895.0" cy="1917.8" r="1.3"/><circle cx="875.2" cy="1875.1" r="1.3"/><ellipse cx="880.8" cy="1889.2" rx="2.0" ry="0.9" transform="rotate(154 880.8 1889.2)"/><circle cx="904.9" cy="1889.5" r="2.2"/><circle cx="908.1" cy="1786.6" r="1.0"/><circle cx="870.5" cy="1950.7" r="1.9"/><circle cx="873.4" cy="1987.6" r="2.2"/><circle cx="904.9" cy="1795.9" r="1.1"/><circle cx="890.6" cy="1891.7" r="1.2"/><circle cx="885.2" cy="1870.1" r="2.0"/><circle cx="870.5" cy="1969.8" r="1.8"/><ellipse cx="901.2" cy="1955.7" rx="2.6" ry="1.2" transform="rotate(75 901.2 1955.7)"/><circle cx="886.7" cy="1996.8" r="1.5"/><ellipse cx="909.0" cy="1786.9" rx="3.3" ry="1.4" transform="rotate(93 909.0 1786.9)"/><circle cx="904.2" cy="1747.5" r="1.3"/><circle cx="894.1" cy="1882.9" r="1.4"/><ellipse cx="844.0" cy="2069.0" rx="2.1" ry="0.9" transform="rotate(139 844.0 2069.0)"/><circle cx="857.5" cy="2035.9" r="1.9"/><circle cx="894.0" cy="1900.5" r="1.5"/><ellipse cx="871.4" cy="2037.8" rx="2.2" ry="1.0" transform="rotate(96 871.4 2037.8)"/><circle cx="896.4" cy="1819.6" r="1.2"/><ellipse cx="860.1" cy="1993.7" rx="1.9" ry="0.8" transform="rotate(149 860.1 1993.7)"/><circle cx="902.6" cy="1822.9" r="1.3"/><circle cx="890.6" cy="1823.4" r="1.6"/><circle cx="902.1" cy="1777.5" r="1.3"/><ellipse cx="890.5" cy="1974.1" rx="1.5" ry="0.7" transform="rotate(141 890.5 1974.1)"/><ellipse cx="878.4" cy="1916.6" rx="2.4" ry="1.0" transform="rotate(154 878.4 1916.6)"/><ellipse cx="902.3" cy="1871.6" rx="2.4" ry="1.0" transform="rotate(172 902.3 1871.6)"/><circle cx="892.4" cy="1966.8" r="1.2"/><circle cx="901.7" cy="1859.2" r="1.1"/><circle cx="895.5" cy="1985.8" r="1.1"/><circle cx="889.9" cy="1870.1" r="1.3"/><circle cx="884.6" cy="1938.5" r="1.2"/><ellipse cx="899.6" cy="1878.9" rx="3.3" ry="1.5" transform="rotate(71 899.6 1878.9)"/><circle cx="874.2" cy="1964.4" r="1.3"/><circle cx="899.5" cy="1891.6" r="1.2"/><ellipse cx="898.9" cy="1737.0" rx="2.9" ry="1.3" transform="rotate(86 898.9 1737.0)"/><ellipse cx="903.0" cy="1734.6" rx="1.7" ry="0.8" transform="rotate(122 903.0 1734.6)"/><circle cx="899.2" cy="1888.2" r="0.9"/><circle cx="891.0" cy="1803.1" r="2.0"/><ellipse cx="891.9" cy="1854.9" rx="2.3" ry="1.0" transform="rotate(13 891.9 1854.9)"/><circle cx="898.0" cy="1814.5" r="1.4"/><ellipse cx="896.6" cy="1914.8" rx="1.7" ry="0.7" transform="rotate(159 896.6 1914.8)"/><circle cx="884.7" cy="1950.7" r="1.1"/><ellipse cx="885.0" cy="1989.6" rx="3.0" ry="1.3" transform="rotate(179 885.0 1989.6)"/><circle cx="907.0" cy="1734.0" r="1.1"/><circle cx="872.8" cy="1959.8" r="0.9"/><circle cx="880.2" cy="1969.6" r="1.5"/><ellipse cx="882.8" cy="1937.6" rx="2.7" ry="1.2" transform="rotate(74 882.8 1937.6)"/><circle cx="880.5" cy="2012.5" r="1.8"/><ellipse cx="901.6" cy="1737.8" rx="1.6" ry="0.7" transform="rotate(135 901.6 1737.8)"/><circle cx="854.3" cy="2063.3" r="1.7"/><ellipse cx="899.7" cy="1750.0" rx="3.4" ry="1.5" transform="rotate(25 899.7 1750.0)"/><ellipse cx="904.1" cy="1757.8" rx="2.0" ry="0.9" transform="rotate(100 904.1 1757.8)"/><circle cx="908.3" cy="1940.1" r="1.7"/><circle cx="868.9" cy="2001.7" r="1.9"/><circle cx="882.1" cy="1855.6" r="2.0"/><circle cx="876.2" cy="2022.5" r="1.3"/><circle cx="854.5" cy="2059.4" r="1.6"/><ellipse cx="861.0" cy="1974.8" rx="2.1" ry="0.9" transform="rotate(162 861.0 1974.8)"/><circle cx="866.5" cy="2067.5" r="2.1"/><circle cx="872.8" cy="1914.6" r="1.0"/><circle cx="875.5" cy="1985.7" r="1.7"/><circle cx="895.8" cy="2018.9" r="2.2"/><ellipse cx="884.3" cy="1812.0" rx="3.4" ry="1.5" transform="rotate(155 884.3 1812.0)"/><circle cx="912.5" cy="1859.3" r="1.6"/><circle cx="902.6" cy="1793.1" r="1.8"/><circle cx="905.0" cy="1843.0" r="2.1"/><ellipse cx="919.1" cy="1823.0" rx="1.5" ry="0.6" transform="rotate(47 919.1 1823.0)"/><ellipse cx="901.3" cy="1753.7" rx="1.5" ry="0.7" transform="rotate(142 901.3 1753.7)"/><circle cx="870.8" cy="1988.7" r="1.6"/><circle cx="888.7" cy="1896.9" r="1.6"/><ellipse cx="894.8" cy="1802.0" rx="2.9" ry="1.3" transform="rotate(97 894.8 1802.0)"/><ellipse cx="869.3" cy="1930.0" rx="2.7" ry="1.2" transform="rotate(56 869.3 1930.0)"/><ellipse cx="889.6" cy="1873.1" rx="2.5" ry="1.1" transform="rotate(145 889.6 1873.1)"/><circle cx="878.1" cy="1973.5" r="1.6"/><circle cx="902.7" cy="1769.2" r="1.7"/><ellipse cx="886.2" cy="1912.3" rx="2.9" ry="1.2" transform="rotate(126 886.2 1912.3)"/><circle cx="883.5" cy="1802.1" r="1.8"/><ellipse cx="859.1" cy="2067.6" rx="1.6" ry="0.7" transform="rotate(78 859.1 2067.6)"/><circle cx="903.9" cy="1762.5" r="1.5"/><circle cx="909.5" cy="1789.0" r="1.3"/><ellipse cx="907.7" cy="1821.6" rx="3.0" ry="1.3" transform="rotate(127 907.7 1821.6)"/><ellipse cx="896.6" cy="1973.0" rx="2.9" ry="1.3" transform="rotate(172 896.6 1973.0)"/><circle cx="898.0" cy="1895.9" r="1.6"/><ellipse cx="881.3" cy="1890.8" rx="2.9" ry="1.3" transform="rotate(23 881.3 1890.8)"/><ellipse cx="910.8" cy="1743.2" rx="3.1" ry="1.3" transform="rotate(160 910.8 1743.2)"/><ellipse cx="870.9" cy="2014.2" rx="3.0" ry="1.3" transform="rotate(145 870.9 2014.2)"/><ellipse cx="888.6" cy="1946.7" rx="2.0" ry="0.9" transform="rotate(128 888.6 1946.7)"/><ellipse cx="871.9" cy="1929.0" rx="2.6" ry="1.2" transform="rotate(82 871.9 1929.0)"/><circle cx="902.4" cy="1764.7" r="1.4"/><circle cx="878.2" cy="2005.2" r="1.6"/><ellipse cx="867.6" cy="1885.1" rx="2.0" ry="0.9" transform="rotate(103 867.6 1885.1)"/><ellipse cx="862.6" cy="2075.1" rx="2.9" ry="1.3" transform="rotate(92 862.6 2075.1)"/><circle cx="881.0" cy="1934.5" r="1.0"/><circle cx="901.2" cy="1801.6" r="1.2"/><ellipse cx="901.5" cy="1781.7" rx="2.2" ry="1.0" transform="rotate(168 901.5 1781.7)"/><circle cx="898.8" cy="1727.8" r="2.0"/><circle cx="896.7" cy="1831.1" r="2.1"/><ellipse cx="861.6" cy="1972.9" rx="2.3" ry="1.0" transform="rotate(75 861.6 1972.9)"/><ellipse cx="874.9" cy="2046.6" rx="2.9" ry="1.3" transform="rotate(14 874.9 2046.6)"/><circle cx="892.5" cy="1956.6" r="1.4"/><ellipse cx="869.6" cy="1913.1" rx="3.3" ry="1.5" transform="rotate(145 869.6 1913.1)"/><circle cx="881.2" cy="2015.8" r="2.2"/><circle cx="894.2" cy="1831.1" r="1.0"/><circle cx="905.7" cy="1829.2" r="1.3"/><circle cx="892.8" cy="1970.1" r="1.3"/><ellipse cx="890.2" cy="1899.1" rx="1.5" ry="0.6" transform="rotate(101 890.2 1899.1)"/><circle cx="885.8" cy="1878.6" r="1.3"/><circle cx="915.5" cy="1757.1" r="1.5"/><circle cx="929.3" cy="1924.9" r="1.5"/><circle cx="880.0" cy="1961.9" r="1.2"/><ellipse cx="860.0" cy="1991.2" rx="3.0" ry="1.3" transform="rotate(1 860.0 1991.2)"/><ellipse cx="877.9" cy="2049.0" rx="2.3" ry="1.0" transform="rotate(62 877.9 2049.0)"/><circle cx="876.6" cy="1948.2" r="2.0"/><ellipse cx="884.9" cy="1850.4" rx="3.4" ry="1.5" transform="rotate(118 884.9 1850.4)"/><circle cx="864.5" cy="2028.9" r="2.0"/><circle cx="912.1" cy="1825.6" r="1.0"/><circle cx="875.1" cy="1919.0" r="1.2"/><circle cx="904.0" cy="1838.8" r="1.0"/><ellipse cx="903.7" cy="1905.9" rx="2.9" ry="1.3" transform="rotate(166 903.7 1905.9)"/><circle cx="878.8" cy="1916.6" r="2.1"/><circle cx="892.9" cy="1849.8" r="1.8"/><ellipse cx="881.5" cy="1994.4" rx="3.5" ry="1.5" transform="rotate(17 881.5 1994.4)"/><circle cx="853.4" cy="2051.9" r="1.1"/><circle cx="911.5" cy="1768.0" r="1.0"/><circle cx="903.3" cy="1811.9" r="1.5"/><ellipse cx="916.2" cy="1922.7" rx="1.9" ry="0.8" transform="rotate(57 916.2 1922.7)"/><circle cx="865.4" cy="2045.8" r="1.9"/><ellipse cx="855.2" cy="2017.3" rx="3.0" ry="1.3" transform="rotate(49 855.2 2017.3)"/><ellipse cx="883.4" cy="1907.9" rx="1.6" ry="0.7" transform="rotate(140 883.4 1907.9)"/><ellipse cx="869.4" cy="2071.6" rx="2.7" ry="1.2" transform="rotate(30 869.4 2071.6)"/><circle cx="902.9" cy="1859.1" r="1.5"/><circle cx="879.0" cy="2032.6" r="1.6"/><ellipse cx="851.7" cy="2004.9" rx="1.9" ry="0.8" transform="rotate(48 851.7 2004.9)"/><ellipse cx="890.8" cy="1902.2" rx="1.7" ry="0.7" transform="rotate(123 890.8 1902.2)"/><circle cx="863.1" cy="1826.7" r="2.0"/><circle cx="896.1" cy="1899.4" r="1.0"/><ellipse cx="880.4" cy="1846.0" rx="2.1" ry="0.9" transform="rotate(45 880.4 1846.0)"/><circle cx="885.5" cy="1886.5" r="1.4"/><ellipse cx="871.6" cy="1969.5" rx="2.8" ry="1.2" transform="rotate(178 871.6 1969.5)"/><circle cx="895.8" cy="1998.3" r="0.9"/><circle cx="883.7" cy="1971.0" r="1.5"/><circle cx="895.4" cy="1953.2" r="1.2"/><ellipse cx="900.7" cy="1899.9" rx="3.1" ry="1.4" transform="rotate(2 900.7 1899.9)"/><circle cx="900.4" cy="1929.6" r="2.0"/><circle cx="876.8" cy="1879.7" r="1.1"/><circle cx="863.6" cy="1980.4" r="1.4"/><circle cx="879.4" cy="1781.0" r="1.7"/><circle cx="887.8" cy="1841.8" r="1.2"/><ellipse cx="888.0" cy="2020.9" rx="1.5" ry="0.6" transform="rotate(162 888.0 2020.9)"/><ellipse cx="884.5" cy="1861.9" rx="2.4" ry="1.0" transform="rotate(163 884.5 1861.9)"/><ellipse cx="879.4" cy="1991.4" rx="3.2" ry="1.4" transform="rotate(8 879.4 1991.4)"/><ellipse cx="893.3" cy="1746.6" rx="2.4" ry="1.0" transform="rotate(103 893.3 1746.6)"/><circle cx="867.8" cy="2073.0" r="2.0"/><circle cx="892.6" cy="1757.4" r="0.9"/><ellipse cx="880.6" cy="1877.2" rx="1.8" ry="0.8" transform="rotate(34 880.6 1877.2)"/><circle cx="905.7" cy="1740.5" r="1.3"/><circle cx="899.9" cy="1859.1" r="0.9"/><ellipse cx="886.4" cy="1922.9" rx="2.0" ry="0.9" transform="rotate(74 886.4 1922.9)"/><ellipse cx="909.5" cy="1751.6" rx="2.6" ry="1.1" transform="rotate(50 909.5 1751.6)"/><ellipse cx="901.2" cy="1809.7" rx="1.7" ry="0.8" transform="rotate(159 901.2 1809.7)"/><circle cx="888.3" cy="1888.9" r="1.6"/><circle cx="909.7" cy="1725.2" r="1.9"/><circle cx="887.4" cy="1965.0" r="2.2"/><circle cx="880.0" cy="1845.5" r="1.4"/><circle cx="889.9" cy="1878.4" r="1.5"/><circle cx="891.0" cy="1797.2" r="1.6"/><ellipse cx="886.2" cy="1807.9" rx="1.8" ry="0.8" transform="rotate(39 886.2 1807.9)"/><circle cx="858.9" cy="2078.7" r="2.1"/><circle cx="878.6" cy="1958.9" r="1.0"/><circle cx="879.8" cy="1965.4" r="1.6"/><circle cx="856.8" cy="1938.3" r="2.2"/><circle cx="899.2" cy="1823.6" r="1.0"/><circle cx="883.0" cy="1847.2" r="1.2"/><ellipse cx="877.0" cy="1960.3" rx="3.3" ry="1.5" transform="rotate(179 877.0 1960.3)"/><circle cx="856.0" cy="2016.3" r="1.2"/><circle cx="876.7" cy="1954.2" r="1.9"/><circle cx="883.4" cy="1928.0" r="2.0"/><circle cx="894.7" cy="1828.0" r="1.1"/><circle cx="881.2" cy="1770.9" r="1.9"/><ellipse cx="905.0" cy="1909.8" rx="3.3" ry="1.5" transform="rotate(126 905.0 1909.8)"/><circle cx="901.1" cy="1813.9" r="2.1"/><ellipse cx="875.1" cy="2006.5" rx="2.6" ry="1.1" transform="rotate(178 875.1 2006.5)"/><circle cx="905.6" cy="1766.1" r="2.0"/><circle cx="881.7" cy="2061.8" r="1.3"/><ellipse cx="890.2" cy="2068.2" rx="1.6" ry="0.7" transform="rotate(39 890.2 2068.2)"/><ellipse cx="892.6" cy="1853.7" rx="2.5" ry="1.1" transform="rotate(165 892.6 1853.7)"/><ellipse cx="868.5" cy="1914.6" rx="1.9" ry="0.8" transform="rotate(129 868.5 1914.6)"/><circle cx="861.1" cy="1959.4" r="2.1"/><ellipse cx="877.1" cy="2056.0" rx="2.1" ry="0.9" transform="rotate(106 877.1 2056.0)"/><circle cx="910.7" cy="1733.1" r="2.1"/><circle cx="872.0" cy="2047.1" r="2.0"/><circle cx="883.3" cy="2013.4" r="2.1"/><circle cx="907.7" cy="1872.6" r="2.1"/><ellipse cx="889.9" cy="1832.6" rx="1.7" ry="0.7" transform="rotate(25 889.9 1832.6)"/><circle cx="881.0" cy="2038.2" r="1.1"/><circle cx="879.3" cy="1955.8" r="1.9"/><ellipse cx="889.8" cy="1871.5" rx="2.8" ry="1.2" transform="rotate(174 889.8 1871.5)"/><circle cx="900.8" cy="1872.6" r="1.8"/><ellipse cx="893.2" cy="1868.7" rx="3.1" ry="1.3" transform="rotate(106 893.2 1868.7)"/><ellipse cx="867.1" cy="1857.4" rx="1.8" ry="0.8" transform="rotate(124 867.1 1857.4)"/><circle cx="888.4" cy="2027.2" r="1.1"/><circle cx="896.5" cy="1916.3" r="2.1"/><circle cx="893.0" cy="1866.3" r="1.4"/><ellipse cx="856.7" cy="2023.6" rx="3.4" ry="1.5" transform="rotate(108 856.7 2023.6)"/><circle cx="879.6" cy="1950.4" r="2.1"/><circle cx="876.4" cy="2002.4" r="1.2"/><ellipse cx="903.1" cy="1925.0" rx="3.4" ry="1.5" transform="rotate(134 903.1 1925.0)"/><circle cx="901.9" cy="1802.5" r="1.2"/><circle cx="906.9" cy="1844.4" r="1.1"/><circle cx="907.8" cy="1726.1" r="1.0"/><circle cx="901.0" cy="1772.7" r="1.7"/><ellipse cx="882.9" cy="1957.4" rx="2.4" ry="1.0" transform="rotate(45 882.9 1957.4)"/><ellipse cx="876.8" cy="2004.3" rx="1.6" ry="0.7" transform="rotate(19 876.8 2004.3)"/><circle cx="912.3" cy="1788.1" r="0.9"/><circle cx="885.6" cy="1907.9" r="1.9"/><circle cx="870.6" cy="1998.2" r="2.0"/><circle cx="890.2" cy="1902.1" r="1.4"/><circle cx="886.1" cy="1998.3" r="1.0"/><circle cx="892.6" cy="1886.2" r="2.0"/><ellipse cx="873.3" cy="1895.4" rx="2.9" ry="1.3" transform="rotate(13 873.3 1895.4)"/><ellipse cx="891.2" cy="1897.2" rx="3.2" ry="1.4" transform="rotate(57 891.2 1897.2)"/><ellipse cx="901.0" cy="1753.8" rx="3.4" ry="1.5" transform="rotate(31 901.0 1753.8)"/><circle cx="887.3" cy="1820.4" r="1.4"/><circle cx="906.3" cy="1839.7" r="1.6"/><circle cx="884.6" cy="1884.2" r="1.0"/><circle cx="889.9" cy="1969.3" r="1.7"/><circle cx="875.2" cy="1993.8" r="0.9"/><circle cx="890.2" cy="1885.8" r="1.1"/><ellipse cx="884.3" cy="1885.2" rx="1.8" ry="0.8" transform="rotate(37 884.3 1885.2)"/><circle cx="884.2" cy="1873.7" r="1.1"/><circle cx="902.8" cy="1779.1" r="1.8"/><ellipse cx="878.9" cy="2017.6" rx="2.0" ry="0.9" transform="rotate(43 878.9 2017.6)"/><circle cx="883.8" cy="1982.2" r="1.0"/><ellipse cx="873.7" cy="1930.6" rx="3.2" ry="1.4" transform="rotate(65 873.7 1930.6)"/><ellipse cx="894.6" cy="1771.1" rx="2.3" ry="1.0" transform="rotate(119 894.6 1771.1)"/><ellipse cx="890.6" cy="1986.2" rx="2.7" ry="1.2" transform="rotate(5 890.6 1986.2)"/><ellipse cx="860.1" cy="2063.8" rx="1.8" ry="0.8" transform="rotate(15 860.1 2063.8)"/><ellipse cx="888.1" cy="1931.1" rx="3.2" ry="1.4" transform="rotate(72 888.1 1931.1)"/><circle cx="911.0" cy="1806.9" r="1.5"/><circle cx="893.1" cy="1852.0" r="1.0"/><circle cx="893.8" cy="2004.0" r="1.1"/><circle cx="861.8" cy="2010.6" r="1.4"/><circle cx="915.1" cy="1733.6" r="1.2"/><ellipse cx="902.2" cy="1822.4" rx="1.9" ry="0.8" transform="rotate(11 902.2 1822.4)"/><circle cx="893.7" cy="1834.3" r="1.9"/><ellipse cx="861.7" cy="2029.6" rx="1.6" ry="0.7" transform="rotate(97 861.7 2029.6)"/><circle cx="899.3" cy="1775.3" r="2.2"/><circle cx="880.4" cy="1989.2" r="1.6"/><circle cx="881.6" cy="1847.6" r="2.0"/><circle cx="871.8" cy="1997.5" r="1.6"/><circle cx="908.9" cy="1746.7" r="1.5"/><ellipse cx="877.9" cy="1964.8" rx="2.4" ry="1.1" transform="rotate(162 877.9 1964.8)"/><circle cx="878.8" cy="1896.6" r="1.8"/><circle cx="887.0" cy="1991.6" r="2.1"/><circle cx="890.3" cy="1823.1" r="1.8"/><circle cx="892.3" cy="1960.1" r="1.1"/><circle cx="893.5" cy="1935.8" r="1.1"/><circle cx="902.4" cy="1801.1" r="2.2"/><circle cx="910.7" cy="1841.0" r="1.1"/><circle cx="889.9" cy="1789.6" r="2.2"/><circle cx="897.7" cy="1898.0" r="2.2"/><ellipse cx="904.5" cy="1750.8" rx="3.2" ry="1.4" transform="rotate(164 904.5 1750.8)"/><ellipse cx="915.5" cy="1730.7" rx="3.3" ry="1.5" transform="rotate(70 915.5 1730.7)"/><ellipse cx="867.2" cy="1926.1" rx="2.3" ry="1.0" transform="rotate(50 867.2 1926.1)"/><circle cx="891.9" cy="1872.5" r="1.5"/><circle cx="898.2" cy="1837.0" r="1.9"/><circle cx="878.9" cy="2016.8" r="1.6"/><ellipse cx="874.6" cy="2024.2" rx="2.3" ry="1.0" transform="rotate(106 874.6 2024.2)"/><circle cx="878.0" cy="1910.4" r="1.9"/><circle cx="889.9" cy="1845.9" r="2.1"/><ellipse cx="897.3" cy="1906.2" rx="1.7" ry="0.7" transform="rotate(96 897.3 1906.2)"/><circle cx="860.2" cy="2045.7" r="1.3"/><circle cx="878.4" cy="2011.3" r="1.4"/><ellipse cx="903.9" cy="1779.8" rx="2.7" ry="1.2" transform="rotate(50 903.9 1779.8)"/><circle cx="872.9" cy="1991.0" r="1.1"/><ellipse cx="856.4" cy="1996.6" rx="2.9" ry="1.3" transform="rotate(160 856.4 1996.6)"/><ellipse cx="851.0" cy="1993.4" rx="2.1" ry="0.9" transform="rotate(134 851.0 1993.4)"/><circle cx="873.4" cy="1921.5" r="2.1"/><circle cx="868.3" cy="2027.7" r="0.9"/><ellipse cx="898.1" cy="1750.5" rx="2.1" ry="0.9" transform="rotate(88 898.1 1750.5)"/><ellipse cx="906.4" cy="1823.0" rx="2.9" ry="1.3" transform="rotate(156 906.4 1823.0)"/><circle cx="890.9" cy="1834.8" r="1.1"/><circle cx="895.8" cy="2018.9" r="1.5"/><circle cx="862.7" cy="2023.8" r="1.3"/><ellipse cx="869.1" cy="1886.8" rx="2.8" ry="1.2" transform="rotate(38 869.1 1886.8)"/><circle cx="851.0" cy="2040.7" r="2.0"/><circle cx="875.3" cy="1956.2" r="1.9"/><circle cx="903.7" cy="1779.2" r="2.0"/><ellipse cx="861.2" cy="2043.3" rx="1.8" ry="0.8" transform="rotate(91 861.2 2043.3)"/><circle cx="891.0" cy="1903.9" r="1.1"/><ellipse cx="876.5" cy="1880.1" rx="3.3" ry="1.4" transform="rotate(35 876.5 1880.1)"/><circle cx="895.4" cy="1782.7" r="2.0"/><circle cx="882.5" cy="1871.4" r="1.2"/><circle cx="873.3" cy="2001.6" r="2.1"/><circle cx="899.9" cy="1757.6" r="1.3"/><circle cx="863.9" cy="1975.7" r="1.6"/><ellipse cx="864.8" cy="2033.9" rx="1.7" ry="0.7" transform="rotate(67 864.8 2033.9)"/><ellipse cx="888.6" cy="1779.7" rx="2.7" ry="1.2" transform="rotate(157 888.6 1779.7)"/><ellipse cx="866.8" cy="1972.2" rx="2.7" ry="1.2" transform="rotate(29 866.8 1972.2)"/><circle cx="866.1" cy="2056.1" r="2.1"/><ellipse cx="882.9" cy="2000.3" rx="2.9" ry="1.3" transform="rotate(70 882.9 2000.3)"/><circle cx="873.2" cy="2013.1" r="1.1"/><circle cx="878.4" cy="1908.6" r="2.2"/><circle cx="887.9" cy="1853.6" r="1.7"/><circle cx="907.6" cy="1800.2" r="1.2"/><circle cx="899.7" cy="1805.9" r="0.9"/><ellipse cx="890.6" cy="2023.6" rx="3.0" ry="1.3" transform="rotate(164 890.6 2023.6)"/><circle cx="876.8" cy="2017.9" r="1.7"/><ellipse cx="893.8" cy="1842.8" rx="1.5" ry="0.6" transform="rotate(145 893.8 1842.8)"/><circle cx="902.4" cy="1861.1" r="1.3"/><circle cx="879.3" cy="1994.8" r="1.7"/><ellipse cx="874.9" cy="1880.8" rx="2.2" ry="1.0" transform="rotate(45 874.9 1880.8)"/><circle cx="889.9" cy="1809.7" r="1.5"/><circle cx="863.4" cy="1988.8" r="2.0"/><circle cx="898.3" cy="1832.2" r="1.0"/><circle cx="854.5" cy="2021.9" r="1.8"/><circle cx="859.0" cy="2070.9" r="1.4"/><ellipse cx="863.5" cy="1858.8" rx="2.7" ry="1.2" transform="rotate(19 863.5 1858.8)"/><circle cx="877.0" cy="2010.9" r="1.0"/><circle cx="884.4" cy="1810.3" r="1.7"/><circle cx="903.5" cy="1922.4" r="1.2"/><ellipse cx="869.2" cy="2027.2" rx="3.3" ry="1.4" transform="rotate(27 869.2 2027.2)"/><circle cx="900.2" cy="1820.8" r="1.9"/><circle cx="897.0" cy="1878.6" r="1.9"/><circle cx="887.3" cy="1884.3" r="1.7"/><circle cx="899.3" cy="1744.6" r="1.8"/><circle cx="866.2" cy="2074.4" r="1.8"/><circle cx="879.9" cy="2049.3" r="1.2"/><ellipse cx="882.4" cy="2004.2" rx="2.2" ry="1.0" transform="rotate(127 882.4 2004.2)"/><ellipse cx="872.3" cy="2015.4" rx="2.6" ry="1.2" transform="rotate(131 872.3 2015.4)"/><circle cx="878.0" cy="1973.0" r="1.2"/><circle cx="902.5" cy="1757.5" r="1.9"/><circle cx="883.1" cy="1915.7" r="1.8"/><circle cx="900.3" cy="1766.6" r="2.0"/><ellipse cx="894.4" cy="1744.4" rx="3.3" ry="1.4" transform="rotate(18 894.4 1744.4)"/><ellipse cx="907.8" cy="1888.8" rx="1.7" ry="0.7" transform="rotate(146 907.8 1888.8)"/><ellipse cx="897.8" cy="1935.1" rx="3.0" ry="1.3" transform="rotate(122 897.8 1935.1)"/><ellipse cx="902.9" cy="1812.3" rx="2.1" ry="0.9" transform="rotate(64 902.9 1812.3)"/><ellipse cx="883.4" cy="1943.3" rx="3.0" ry="1.3" transform="rotate(142 883.4 1943.3)"/><ellipse cx="908.9" cy="1961.3" rx="2.1" ry="0.9" transform="rotate(53 908.9 1961.3)"/><circle cx="895.7" cy="1749.3" r="2.0"/><circle cx="857.1" cy="2071.3" r="2.0"/><ellipse cx="866.6" cy="1886.3" rx="3.4" ry="1.5" transform="rotate(160 866.6 1886.3)"/><circle cx="912.9" cy="1815.1" r="1.6"/><ellipse cx="891.3" cy="1843.9" rx="2.2" ry="1.0" transform="rotate(10 891.3 1843.9)"/><ellipse cx="875.7" cy="1994.2" rx="3.2" ry="1.4" transform="rotate(36 875.7 1994.2)"/><circle cx="893.4" cy="1740.5" r="1.4"/><circle cx="901.0" cy="1785.1" r="2.1"/><circle cx="864.6" cy="1966.7" r="1.3"/><circle cx="904.8" cy="1745.9" r="1.9"/><ellipse cx="901.2" cy="1829.1" rx="2.8" ry="1.2" transform="rotate(114 901.2 1829.1)"/><ellipse cx="911.2" cy="1739.7" rx="1.4" ry="0.6" transform="rotate(137 911.2 1739.7)"/><circle cx="859.5" cy="2071.8" r="1.1"/><circle cx="881.5" cy="1991.4" r="1.5"/><circle cx="883.6" cy="1998.0" r="1.0"/><circle cx="890.6" cy="1772.7" r="1.7"/><circle cx="887.2" cy="1984.9" r="2.2"/><ellipse cx="854.8" cy="2066.9" rx="1.5" ry="0.7" transform="rotate(67 854.8 2066.9)"/><ellipse cx="849.3" cy="2049.1" rx="1.5" ry="0.6" transform="rotate(150 849.3 2049.1)"/><circle cx="892.8" cy="1981.8" r="1.1"/><ellipse cx="864.5" cy="2013.3" rx="2.7" ry="1.2" transform="rotate(125 864.5 2013.3)"/><ellipse cx="899.9" cy="1752.6" rx="2.2" ry="0.9" transform="rotate(69 899.9 1752.6)"/><ellipse cx="866.6" cy="1938.3" rx="2.7" ry="1.2" transform="rotate(148 866.6 1938.3)"/><ellipse cx="913.3" cy="1850.1" rx="2.1" ry="0.9" transform="rotate(131 913.3 1850.1)"/><ellipse cx="901.1" cy="1849.4" rx="2.7" ry="1.2" transform="rotate(160 901.1 1849.4)"/><ellipse cx="873.3" cy="2068.8" rx="3.5" ry="1.5" transform="rotate(162 873.3 2068.8)"/><ellipse cx="867.6" cy="1951.9" rx="2.2" ry="1.0" transform="rotate(171 867.6 1951.9)"/><circle cx="886.6" cy="1963.5" r="2.1"/><circle cx="883.5" cy="1938.1" r="1.2"/><circle cx="904.6" cy="1747.7" r="1.1"/><ellipse cx="877.9" cy="1858.9" rx="2.7" ry="1.2" transform="rotate(66 877.9 1858.9)"/><ellipse cx="891.3" cy="1963.1" rx="2.8" ry="1.2" transform="rotate(158 891.3 1963.1)"/><circle cx="863.7" cy="1992.0" r="1.2"/><circle cx="885.9" cy="1864.1" r="1.0"/><circle cx="900.9" cy="1763.4" r="1.8"/><circle cx="883.4" cy="1860.9" r="0.9"/><circle cx="866.0" cy="1819.3" r="1.4"/><circle cx="905.0" cy="1824.8" r="1.6"/><circle cx="906.3" cy="1767.2" r="1.1"/><ellipse cx="867.0" cy="2040.8" rx="2.8" ry="1.2" transform="rotate(119 867.0 2040.8)"/><ellipse cx="886.1" cy="1963.2" rx="2.8" ry="1.2" transform="rotate(109 886.1 1963.2)"/><circle cx="904.9" cy="1848.6" r="1.1"/><circle cx="883.5" cy="2035.4" r="1.0"/><ellipse cx="856.8" cy="2047.9" rx="1.7" ry="0.7" transform="rotate(19 856.8 2047.9)"/><ellipse cx="892.4" cy="1905.0" rx="1.9" ry="0.8" transform="rotate(47 892.4 1905.0)"/><ellipse cx="901.2" cy="1774.2" rx="2.5" ry="1.1" transform="rotate(127 901.2 1774.2)"/><ellipse cx="870.2" cy="1922.6" rx="2.1" ry="0.9" transform="rotate(89 870.2 1922.6)"/><circle cx="881.2" cy="1918.5" r="1.2"/><ellipse cx="910.4" cy="1834.2" rx="2.1" ry="0.9" transform="rotate(121 910.4 1834.2)"/><circle cx="888.7" cy="1906.3" r="2.1"/><ellipse cx="912.7" cy="1751.3" rx="2.8" ry="1.2" transform="rotate(16 912.7 1751.3)"/><circle cx="884.4" cy="1881.8" r="1.6"/><ellipse cx="875.9" cy="2030.5" rx="1.7" ry="0.7" transform="rotate(42 875.9 2030.5)"/><ellipse cx="907.8" cy="1789.2" rx="3.5" ry="1.5" transform="rotate(84 907.8 1789.2)"/><ellipse cx="877.2" cy="2045.1" rx="1.6" ry="0.7" transform="rotate(7 877.2 2045.1)"/><circle cx="903.8" cy="1781.1" r="1.3"/><circle cx="862.7" cy="1978.2" r="1.3"/><circle cx="877.2" cy="2038.0" r="1.0"/><circle cx="875.9" cy="1947.9" r="1.0"/><ellipse cx="882.9" cy="1831.5" rx="2.8" ry="1.2" transform="rotate(64 882.9 1831.5)"/><circle cx="904.0" cy="1784.6" r="1.5"/><ellipse cx="877.9" cy="1953.9" rx="3.3" ry="1.4" transform="rotate(147 877.9 1953.9)"/><circle cx="853.2" cy="2019.4" r="1.1"/><ellipse cx="913.1" cy="1736.7" rx="3.4" ry="1.5" transform="rotate(69 913.1 1736.7)"/><circle cx="872.1" cy="1925.1" r="2.0"/><circle cx="881.7" cy="1870.0" r="1.7"/><circle cx="874.7" cy="1950.4" r="1.0"/><circle cx="893.6" cy="1892.2" r="1.0"/><circle cx="897.8" cy="1830.4" r="1.1"/><circle cx="881.6" cy="1880.0" r="1.7"/><ellipse cx="875.6" cy="1941.3" rx="2.9" ry="1.2" transform="rotate(68 875.6 1941.3)"/><ellipse cx="899.2" cy="1978.8" rx="2.2" ry="1.0" transform="rotate(123 899.2 1978.8)"/><circle cx="894.3" cy="1773.6" r="2.0"/><circle cx="886.0" cy="1838.0" r="1.1"/><circle cx="902.9" cy="1813.7" r="1.0"/><ellipse cx="885.2" cy="1859.5" rx="1.5" ry="0.7" transform="rotate(57 885.2 1859.5)"/><circle cx="878.9" cy="2030.4" r="1.8"/><circle cx="876.2" cy="1931.3" r="1.9"/><circle cx="873.3" cy="1900.2" r="1.6"/><ellipse cx="918.4" cy="1834.7" rx="2.8" ry="1.2" transform="rotate(94 918.4 1834.7)"/><ellipse cx="894.8" cy="1902.6" rx="2.9" ry="1.3" transform="rotate(119 894.8 1902.6)"/><ellipse cx="904.4" cy="1850.2" rx="2.0" ry="0.9" transform="rotate(122 904.4 1850.2)"/><circle cx="864.7" cy="2033.0" r="1.4"/><circle cx="892.9" cy="1912.1" r="1.6"/><circle cx="869.6" cy="2031.5" r="1.0"/><circle cx="880.8" cy="1855.6" r="1.1"/><circle cx="895.4" cy="1793.9" r="2.0"/><circle cx="887.7" cy="1900.9" r="1.0"/><circle cx="865.8" cy="2071.3" r="1.2"/><ellipse cx="852.0" cy="2069.5" rx="1.5" ry="0.7" transform="rotate(116 852.0 2069.5)"/><ellipse cx="909.4" cy="1843.4" rx="2.3" ry="1.0" transform="rotate(83 909.4 1843.4)"/><circle cx="888.2" cy="1795.5" r="1.9"/><circle cx="907.9" cy="1743.2" r="2.0"/><circle cx="872.7" cy="1892.5" r="1.1"/><ellipse cx="878.7" cy="1908.9" rx="2.8" ry="1.2" transform="rotate(74 878.7 1908.9)"/><ellipse cx="913.1" cy="1782.7" rx="2.6" ry="1.1" transform="rotate(16 913.1 1782.7)"/><circle cx="884.9" cy="1833.9" r="1.7"/><circle cx="883.2" cy="1910.7" r="1.3"/><circle cx="862.7" cy="2013.7" r="1.2"/><circle cx="850.1" cy="2067.2" r="2.1"/><ellipse cx="877.4" cy="1979.4" rx="1.6" ry="0.7" transform="rotate(82 877.4 1979.4)"/><circle cx="907.9" cy="1891.4" r="1.6"/><circle cx="859.4" cy="1996.2" r="1.5"/><ellipse cx="892.0" cy="1932.7" rx="2.9" ry="1.3" transform="rotate(137 892.0 1932.7)"/><ellipse cx="886.2" cy="1942.0" rx="1.9" ry="0.8" transform="rotate(149 886.2 1942.0)"/><ellipse cx="909.0" cy="1965.2" rx="3.4" ry="1.5" transform="rotate(94 909.0 1965.2)"/><ellipse cx="908.1" cy="1764.7" rx="2.9" ry="1.3" transform="rotate(30 908.1 1764.7)"/><circle cx="897.3" cy="1777.1" r="1.1"/><ellipse cx="898.1" cy="1995.3" rx="2.9" ry="1.3" transform="rotate(110 898.1 1995.3)"/><circle cx="884.1" cy="1984.0" r="1.1"/><circle cx="892.2" cy="1801.2" r="1.4"/><circle cx="883.2" cy="1911.1" r="1.9"/><circle cx="865.1" cy="2046.8" r="1.0"/><circle cx="873.5" cy="1993.4" r="2.1"/><circle cx="873.6" cy="1967.8" r="1.7"/><circle cx="890.4" cy="1811.8" r="1.5"/><ellipse cx="866.1" cy="2068.1" rx="3.4" ry="1.5" transform="rotate(90 866.1 2068.1)"/><ellipse cx="896.0" cy="1796.9" rx="2.5" ry="1.1" transform="rotate(168 896.0 1796.9)"/><circle cx="910.0" cy="1846.6" r="2.0"/><circle cx="906.1" cy="1823.8" r="1.6"/><circle cx="911.5" cy="1858.4" r="1.1"/><ellipse cx="873.1" cy="2058.6" rx="3.0" ry="1.3" transform="rotate(70 873.1 2058.6)"/><circle cx="893.0" cy="1824.9" r="1.7"/><circle cx="888.7" cy="1883.1" r="1.6"/><circle cx="878.7" cy="1795.6" r="2.2"/><ellipse cx="890.4" cy="1971.8" rx="3.0" ry="1.3" transform="rotate(173 890.4 1971.8)"/><circle cx="884.6" cy="1934.4" r="2.2"/><circle cx="883.3" cy="1911.4" r="1.1"/><circle cx="889.2" cy="1869.8" r="1.8"/><circle cx="892.0" cy="1995.9" r="1.3"/><circle cx="847.1" cy="2053.8" r="2.0"/><circle cx="864.6" cy="2033.6" r="2.1"/><circle cx="861.8" cy="2066.0" r="1.2"/><ellipse cx="884.9" cy="2045.2" rx="2.0" ry="0.9" transform="rotate(121 884.9 2045.2)"/><circle cx="881.0" cy="1908.7" r="2.2"/><circle cx="882.7" cy="2049.3" r="2.1"/><ellipse cx="924.3" cy="1784.2" rx="2.9" ry="1.3" transform="rotate(21 924.3 1784.2)"/><circle cx="865.0" cy="1865.1" r="1.4"/><circle cx="891.6" cy="2060.9" r="1.6"/><circle cx="903.2" cy="1728.8" r="1.4"/><ellipse cx="860.8" cy="2075.9" rx="3.2" ry="1.4" transform="rotate(153 860.8 2075.9)"/><circle cx="857.1" cy="1916.3" r="2.0"/><ellipse cx="865.9" cy="2024.1" rx="1.5" ry="0.7" transform="rotate(121 865.9 2024.1)"/><circle cx="906.0" cy="1767.3" r="1.2"/><ellipse cx="902.3" cy="1819.1" rx="1.8" ry="0.8" transform="rotate(45 902.3 1819.1)"/><circle cx="857.4" cy="2001.4" r="2.0"/><circle cx="910.3" cy="1784.1" r="1.3"/><circle cx="869.4" cy="2015.4" r="0.9"/><circle cx="883.2" cy="1961.2" r="1.0"/><circle cx="893.8" cy="1840.8" r="1.9"/><circle cx="897.6" cy="1803.5" r="1.9"/><circle cx="894.3" cy="1831.4" r="1.2"/><ellipse cx="879.6" cy="1954.1" rx="3.1" ry="1.4" transform="rotate(120 879.6 1954.1)"/><circle cx="898.9" cy="1769.3" r="2.1"/><circle cx="901.4" cy="1900.0" r="2.1"/><circle cx="910.9" cy="1837.8" r="1.3"/><ellipse cx="889.5" cy="1828.3" rx="1.5" ry="0.6" transform="rotate(112 889.5 1828.3)"/><circle cx="908.2" cy="1775.5" r="1.9"/><circle cx="869.8" cy="1939.3" r="2.0"/><circle cx="871.4" cy="1890.1" r="1.8"/><circle cx="897.9" cy="1805.8" r="1.9"/><circle cx="884.3" cy="2032.7" r="1.7"/><ellipse cx="893.0" cy="1973.5" rx="3.4" ry="1.5" transform="rotate(32 893.0 1973.5)"/><ellipse cx="896.3" cy="1746.9" rx="2.9" ry="1.3" transform="rotate(31 896.3 1746.9)"/><circle cx="890.6" cy="1927.9" r="1.6"/><circle cx="892.2" cy="1909.0" r="1.5"/><circle cx="896.0" cy="1931.4" r="1.1"/><ellipse cx="861.4" cy="2009.7" rx="2.0" ry="0.9" transform="rotate(128 861.4 2009.7)"/><ellipse cx="900.6" cy="1886.7" rx="1.8" ry="0.8" transform="rotate(58 900.6 1886.7)"/><circle cx="873.3" cy="2006.4" r="1.0"/><circle cx="874.6" cy="2009.1" r="1.7"/><circle cx="903.0" cy="1742.5" r="1.5"/><circle cx="872.4" cy="2073.6" r="1.4"/><ellipse cx="882.7" cy="2053.2" rx="2.1" ry="0.9" transform="rotate(33 882.7 2053.2)"/><circle cx="880.1" cy="1989.6" r="1.0"/><circle cx="848.1" cy="1955.1" r="1.4"/><ellipse cx="907.7" cy="1856.7" rx="1.6" ry="0.7" transform="rotate(38 907.7 1856.7)"/><circle cx="885.2" cy="1854.8" r="1.3"/><circle cx="879.2" cy="1913.2" r="1.2"/><circle cx="889.2" cy="1787.9" r="1.6"/><circle cx="878.5" cy="1980.9" r="2.0"/><circle cx="902.5" cy="1736.8" r="0.9"/><circle cx="863.5" cy="1915.8" r="1.5"/><circle cx="892.3" cy="1814.0" r="1.7"/><circle cx="869.5" cy="2053.1" r="2.1"/><circle cx="857.2" cy="2011.0" r="1.3"/><circle cx="880.6" cy="2035.4" r="2.1"/><ellipse cx="911.6" cy="1761.9" rx="2.6" ry="1.1" transform="rotate(164 911.6 1761.9)"/><circle cx="898.2" cy="1973.1" r="2.0"/><circle cx="891.5" cy="1868.2" r="1.9"/><circle cx="886.6" cy="2029.1" r="1.0"/><circle cx="901.4" cy="1824.3" r="1.2"/><ellipse cx="881.4" cy="1835.9" rx="3.4" ry="1.5" transform="rotate(172 881.4 1835.9)"/><ellipse cx="892.0" cy="1839.3" rx="2.6" ry="1.1" transform="rotate(12 892.0 1839.3)"/><circle cx="882.8" cy="1958.7" r="1.8"/><circle cx="916.4" cy="1746.0" r="2.0"/><circle cx="862.4" cy="2043.5" r="1.0"/><circle cx="914.8" cy="1898.6" r="1.8"/><circle cx="882.9" cy="1959.3" r="1.9"/><circle cx="896.6" cy="1873.3" r="2.1"/><circle cx="854.1" cy="1990.7" r="1.1"/><ellipse cx="889.8" cy="1827.8" rx="2.1" ry="0.9" transform="rotate(10 889.8 1827.8)"/><circle cx="841.9" cy="2044.2" r="1.9"/><ellipse cx="890.8" cy="1922.2" rx="2.6" ry="1.2" transform="rotate(47 890.8 1922.2)"/><circle cx="886.4" cy="1793.6" r="1.4"/><ellipse cx="890.1" cy="2024.3" rx="2.3" ry="1.0" transform="rotate(121 890.1 2024.3)"/><circle cx="897.3" cy="1795.6" r="1.6"/><circle cx="888.6" cy="1936.1" r="1.7"/><circle cx="874.6" cy="1990.1" r="1.7"/><circle cx="894.9" cy="1892.5" r="1.0"/><circle cx="898.0" cy="2061.4" r="1.0"/><ellipse cx="904.7" cy="2068.0" rx="2.1" ry="0.9" transform="rotate(138 904.7 2068.0)"/><circle cx="888.5" cy="1896.3" r="1.5"/><circle cx="907.8" cy="1796.3" r="1.8"/><ellipse cx="865.6" cy="1999.1" rx="2.5" ry="1.1" transform="rotate(70 865.6 1999.1)"/><circle cx="891.4" cy="1854.1" r="1.9"/><ellipse cx="914.1" cy="1903.3" rx="3.4" ry="1.5" transform="rotate(122 914.1 1903.3)"/><circle cx="901.9" cy="1886.6" r="2.1"/><circle cx="880.0" cy="1857.1" r="1.8"/><circle cx="901.8" cy="1804.7" r="2.1"/><ellipse cx="859.4" cy="2052.2" rx="2.6" ry="1.1" transform="rotate(1 859.4 2052.2)"/><circle cx="896.5" cy="1781.1" r="1.7"/><ellipse cx="856.7" cy="2017.7" rx="3.4" ry="1.5" transform="rotate(135 856.7 2017.7)"/><ellipse cx="878.9" cy="1969.4" rx="3.3" ry="1.5" transform="rotate(74 878.9 1969.4)"/><circle cx="860.4" cy="2062.5" r="1.7"/><ellipse cx="901.0" cy="1783.7" rx="1.8" ry="0.8" transform="rotate(150 901.0 1783.7)"/><ellipse cx="851.7" cy="1978.4" rx="1.8" ry="0.8" transform="rotate(144 851.7 1978.4)"/><circle cx="882.8" cy="1915.2" r="2.0"/><circle cx="913.1" cy="1733.9" r="2.1"/><circle cx="881.7" cy="1957.8" r="1.5"/><ellipse cx="876.2" cy="2024.0" rx="2.0" ry="0.9" transform="rotate(18 876.2 2024.0)"/><circle cx="900.2" cy="1729.1" r="1.8"/><ellipse cx="874.2" cy="1939.8" rx="2.1" ry="0.9" transform="rotate(118 874.2 1939.8)"/><circle cx="886.3" cy="1895.1" r="1.0"/><ellipse cx="899.7" cy="1919.3" rx="3.3" ry="1.4" transform="rotate(81 899.7 1919.3)"/><ellipse cx="897.3" cy="1822.1" rx="2.7" ry="1.2" transform="rotate(105 897.3 1822.1)"/><circle cx="865.0" cy="2007.4" r="1.6"/><circle cx="875.7" cy="2045.0" r="1.3"/><ellipse cx="903.8" cy="1780.4" rx="1.5" ry="0.6" transform="rotate(40 903.8 1780.4)"/><circle cx="873.7" cy="2013.3" r="1.9"/><ellipse cx="880.2" cy="1858.0" rx="3.2" ry="1.4" transform="rotate(132 880.2 1858.0)"/><circle cx="871.1" cy="2075.6" r="2.0"/><ellipse cx="860.2" cy="2019.5" rx="2.2" ry="1.0" transform="rotate(99 860.2 2019.5)"/><circle cx="887.0" cy="1992.9" r="1.1"/><circle cx="886.5" cy="1919.5" r="2.0"/><circle cx="890.7" cy="1786.0" r="1.1"/><circle cx="854.3" cy="1998.9" r="1.2"/><ellipse cx="900.3" cy="1759.3" rx="1.6" ry="0.7" transform="rotate(3 900.3 1759.3)"/><ellipse cx="910.5" cy="1796.9" rx="2.5" ry="1.1" transform="rotate(105 910.5 1796.9)"/><circle cx="892.3" cy="1892.7" r="1.4"/><circle cx="883.4" cy="2048.4" r="2.1"/><circle cx="909.5" cy="1736.8" r="1.6"/><circle cx="852.2" cy="2060.8" r="1.5"/><ellipse cx="875.0" cy="1975.9" rx="2.2" ry="1.0" transform="rotate(139 875.0 1975.9)"/><ellipse cx="900.7" cy="1786.6" rx="3.0" ry="1.3" transform="rotate(84 900.7 1786.6)"/><circle cx="899.1" cy="1861.1" r="1.6"/><circle cx="900.3" cy="1995.1" r="1.6"/><circle cx="845.7" cy="1979.4" r="2.0"/><ellipse cx="892.7" cy="1746.3" rx="2.7" ry="1.2" transform="rotate(93 892.7 1746.3)"/><ellipse cx="896.2" cy="1840.3" rx="2.4" ry="1.0" transform="rotate(171 896.2 1840.3)"/><circle cx="891.3" cy="1864.4" r="1.8"/><circle cx="906.9" cy="1821.6" r="1.9"/><ellipse cx="903.0" cy="1849.8" rx="2.2" ry="1.0" transform="rotate(88 903.0 1849.8)"/><circle cx="877.4" cy="1963.2" r="1.0"/><ellipse cx="888.2" cy="1939.5" rx="1.5" ry="0.7" transform="rotate(163 888.2 1939.5)"/><circle cx="909.0" cy="1757.3" r="1.4"/><ellipse cx="881.2" cy="1946.1" rx="2.4" ry="1.0" transform="rotate(177 881.2 1946.1)"/><circle cx="908.2" cy="1763.3" r="1.3"/><circle cx="891.6" cy="1853.0" r="1.6"/><ellipse cx="888.6" cy="1792.4" rx="3.2" ry="1.4" transform="rotate(98 888.6 1792.4)"/><circle cx="900.8" cy="1869.1" r="1.1"/><circle cx="897.4" cy="1757.5" r="1.4"/><circle cx="888.5" cy="1862.7" r="2.0"/><circle cx="915.0" cy="1753.1" r="1.4"/><circle cx="862.2" cy="2067.8" r="1.6"/><circle cx="897.5" cy="1860.6" r="2.0"/><circle cx="898.8" cy="1899.4" r="1.5"/><ellipse cx="885.5" cy="1873.5" rx="2.5" ry="1.1" transform="rotate(30 885.5 1873.5)"/><circle cx="896.7" cy="1816.9" r="1.0"/><ellipse cx="885.4" cy="1934.7" rx="1.9" ry="0.8" transform="rotate(65 885.4 1934.7)"/><ellipse cx="903.0" cy="1832.1" rx="2.9" ry="1.3" transform="rotate(41 903.0 1832.1)"/><circle cx="886.0" cy="1941.4" r="2.0"/><circle cx="901.5" cy="1839.5" r="1.5"/><ellipse cx="876.0" cy="2068.3" rx="1.9" ry="0.8" transform="rotate(150 876.0 2068.3)"/><ellipse cx="873.2" cy="2059.2" rx="1.5" ry="0.7" transform="rotate(103 873.2 2059.2)"/><circle cx="879.2" cy="2063.3" r="1.1"/><circle cx="863.8" cy="1969.4" r="1.0"/><ellipse cx="884.6" cy="1813.4" rx="1.6" ry="0.7" transform="rotate(32 884.6 1813.4)"/><circle cx="901.8" cy="1865.2" r="2.1"/><ellipse cx="866.0" cy="1932.4" rx="2.6" ry="1.1" transform="rotate(130 866.0 1932.4)"/><ellipse cx="897.9" cy="1917.9" rx="2.8" ry="1.2" transform="rotate(15 897.9 1917.9)"/><circle cx="869.8" cy="1974.6" r="1.5"/><ellipse cx="888.7" cy="1965.3" rx="3.2" ry="1.4" transform="rotate(149 888.7 1965.3)"/><circle cx="874.7" cy="1869.2" r="1.7"/><ellipse cx="888.8" cy="1808.0" rx="3.1" ry="1.4" transform="rotate(119 888.8 1808.0)"/><circle cx="909.1" cy="2004.9" r="1.2"/><circle cx="876.5" cy="1895.1" r="1.3"/><ellipse cx="865.6" cy="2045.8" rx="2.7" ry="1.2" transform="rotate(69 865.6 2045.8)"/><ellipse cx="859.6" cy="2006.0" rx="1.7" ry="0.7" transform="rotate(155 859.6 2006.0)"/><circle cx="882.3" cy="1913.3" r="1.6"/><ellipse cx="870.6" cy="1993.6" rx="1.8" ry="0.8" transform="rotate(86 870.6 1993.6)"/><ellipse cx="914.8" cy="1954.0" rx="2.7" ry="1.2" transform="rotate(141 914.8 1954.0)"/><ellipse cx="863.9" cy="1965.1" rx="2.5" ry="1.1" transform="rotate(87 863.9 1965.1)"/><circle cx="867.7" cy="2064.1" r="1.1"/><circle cx="884.7" cy="1816.4" r="2.0"/><circle cx="872.3" cy="1928.2" r="1.9"/><circle cx="893.2" cy="1860.3" r="1.6"/><circle cx="885.5" cy="1901.5" r="1.0"/><circle cx="886.1" cy="1765.2" r="1.2"/><circle cx="905.4" cy="1766.2" r="1.9"/><circle cx="887.5" cy="1835.5" r="1.7"/><circle cx="875.2" cy="1895.3" r="1.9"/><ellipse cx="875.2" cy="1971.4" rx="1.6" ry="0.7" transform="rotate(86 875.2 1971.4)"/><circle cx="892.9" cy="2012.1" r="1.2"/><circle cx="878.2" cy="1951.7" r="1.3"/><ellipse cx="868.9" cy="2071.6" rx="2.3" ry="1.0" transform="rotate(128 868.9 2071.6)"/><circle cx="880.9" cy="1780.2" r="1.9"/><ellipse cx="892.4" cy="1807.9" rx="1.7" ry="0.7" transform="rotate(118 892.4 1807.9)"/><ellipse cx="879.0" cy="1950.4" rx="2.9" ry="1.3" transform="rotate(65 879.0 1950.4)"/><circle cx="887.9" cy="1943.5" r="1.1"/><circle cx="889.1" cy="1860.8" r="1.2"/><circle cx="879.0" cy="1988.6" r="1.5"/><circle cx="905.3" cy="1760.7" r="1.3"/><circle cx="885.8" cy="1840.5" r="1.9"/><circle cx="856.2" cy="2027.4" r="1.9"/><circle cx="871.0" cy="1933.2" r="1.4"/><ellipse cx="901.0" cy="1845.5" rx="2.0" ry="0.9" transform="rotate(62 901.0 1845.5)"/><circle cx="872.3" cy="2009.2" r="1.8"/><circle cx="888.2" cy="1941.6" r="2.0"/><circle cx="899.9" cy="1768.4" r="1.9"/><ellipse cx="867.1" cy="1968.6" rx="2.9" ry="1.3" transform="rotate(39 867.1 1968.6)"/><ellipse cx="897.1" cy="1775.1" rx="2.3" ry="1.0" transform="rotate(99 897.1 1775.1)"/><circle cx="875.8" cy="1945.7" r="1.8"/><circle cx="854.8" cy="2075.2" r="1.1"/></g>
<g fill="#f44a4a"><circle cx="721.7" cy="1749.2" r="1.1"/><ellipse cx="857.1" cy="1739.3" rx="1.9" ry="0.8" transform="rotate(7 857.1 1739.3)"/><circle cx="841.1" cy="2074.3" r="1.5"/><circle cx="944.2" cy="1933.5" r="1.8"/><circle cx="921.7" cy="1875.8" r="1.2"/><circle cx="973.2" cy="1820.1" r="1.0"/><ellipse cx="882.5" cy="1800.3" rx="1.8" ry="0.8" transform="rotate(43 882.5 1800.3)"/><circle cx="720.1" cy="1773.3" r="1.8"/><circle cx="831.2" cy="1859.8" r="1.5"/><ellipse cx="952.1" cy="1741.0" rx="1.7" ry="0.8" transform="rotate(149 952.1 1741.0)"/><ellipse cx="1008.2" cy="1842.7" rx="2.8" ry="1.2" transform="rotate(109 1008.2 1842.7)"/><ellipse cx="781.3" cy="2054.4" rx="2.3" ry="1.0" transform="rotate(73 781.3 2054.4)"/><circle cx="753.5" cy="1742.3" r="1.2"/><circle cx="972.9" cy="2064.2" r="1.7"/><circle cx="901.1" cy="1968.7" r="1.8"/><circle cx="962.5" cy="1991.7" r="1.8"/><ellipse cx="865.1" cy="1929.6" rx="1.6" ry="0.7" transform="rotate(12 865.1 1929.6)"/><ellipse cx="919.6" cy="2077.9" rx="2.5" ry="1.1" transform="rotate(57 919.6 2077.9)"/><circle cx="1021.0" cy="1904.0" r="1.0"/><circle cx="798.2" cy="1749.9" r="1.5"/><circle cx="743.9" cy="2055.0" r="1.4"/><circle cx="1001.7" cy="1813.9" r="1.8"/><circle cx="1006.6" cy="1897.6" r="1.2"/><ellipse cx="994.9" cy="1791.3" rx="1.9" ry="0.8" transform="rotate(111 994.9 1791.3)"/><circle cx="769.1" cy="1754.8" r="1.7"/><circle cx="929.0" cy="1939.4" r="1.6"/><circle cx="733.3" cy="1891.6" r="1.5"/><circle cx="1030.4" cy="2042.5" r="1.7"/><ellipse cx="1030.1" cy="2049.4" rx="2.0" ry="0.9" transform="rotate(104 1030.1 2049.4)"/><circle cx="737.1" cy="2006.9" r="1.4"/><ellipse cx="878.3" cy="1859.3" rx="2.5" ry="1.1" transform="rotate(176 878.3 1859.3)"/><ellipse cx="939.9" cy="1883.5" rx="2.5" ry="1.1" transform="rotate(38 939.9 1883.5)"/><ellipse cx="903.0" cy="1834.5" rx="2.4" ry="1.0" transform="rotate(99 903.0 1834.5)"/><circle cx="794.7" cy="1887.6" r="1.5"/><circle cx="877.1" cy="1792.6" r="1.6"/><ellipse cx="989.1" cy="1817.8" rx="1.8" ry="0.8" transform="rotate(104 989.1 1817.8)"/><ellipse cx="792.0" cy="1752.4" rx="1.9" ry="0.9" transform="rotate(78 792.0 1752.4)"/><ellipse cx="840.0" cy="1769.1" rx="2.8" ry="1.2" transform="rotate(145 840.0 1769.1)"/><circle cx="775.6" cy="1897.9" r="1.8"/><ellipse cx="882.9" cy="1978.3" rx="2.6" ry="1.1" transform="rotate(101 882.9 1978.3)"/></g>
<ellipse cx="880" cy="1828" rx="4" ry="4" fill="#000"/>
<ellipse cx="776" cy="1947" rx="3" ry="3" fill="#000"/><ellipse cx="788" cy="1946" rx="3" ry="3" fill="#000"/>
<ellipse cx="974.2" cy="1890.0" rx="9.8" ry="11.6" fill="#5a5a5a" opacity="0.4"/>
<ellipse cx="827.1" cy="1848.6" rx="9.4" ry="15.5" fill="#5a5a5a" opacity="0.4"/>
<ellipse cx="803.5" cy="1726.4" rx="6.7" ry="14.9" fill="#5a5a5a" opacity="0.4"/>
<ellipse cx="1020.0" cy="1790.6" rx="9.5" ry="13.2" fill="#5a5a5a" opacity="0.4"/>
<ellipse cx="778.0" cy="1998.8" rx="8.1" ry="13.4" fill="#5a5a5a" opacity="0.4"/>
<ellipse cx="997.4" cy="1855.8" rx="7.7" ry="13.1" fill="#5a5a5a" opacity="0.4"/>
<ellipse cx="768.9" cy="1779.3" rx="10.8" ry="10.7" fill="#5a5a5a" opacity="0.4"/>
<ellipse cx="984.9" cy="1744.9" rx="7.0" ry="9.8" fill="#5a5a5a" opacity="0.4"/>
<ellipse cx="821.6" cy="1823.7" rx="7.6" ry="13.2" fill="#5a5a5a" opacity="0.4"/>
<ellipse cx="807.6" cy="1878.7" rx="11.2" ry="10.9" fill="#5a5a5a" opacity="0.4"/>
<ellipse cx="851.5" cy="1785.2" rx="6.1" ry="13.8" fill="#5a5a5a" opacity="0.4"/>
<ellipse cx="927.6" cy="2056.2" rx="10.2" ry="8.6" fill="#5a5a5a" opacity="0.4"/>
<ellipse cx="775.6" cy="1756.2" rx="6.4" ry="15.0" fill="#5a5a5a" opacity="0.4"/>
<ellipse cx="749.9" cy="1813.3" rx="6.9" ry="13.2" fill="#5a5a5a" opacity="0.4"/>
<ellipse cx="996.2" cy="1830.1" rx="7.5" ry="10.3" fill="#5a5a5a" opacity="0.4"/>
<ellipse cx="981.7" cy="1729.5" rx="10.0" ry="14.9" fill="#5a5a5a" opacity="0.4"/>
<ellipse cx="824.2" cy="1889.9" rx="11.8" ry="12.3" fill="#5a5a5a" opacity="0.4"/>
<ellipse cx="808.0" cy="1878.6" rx="11.8" ry="13.6" fill="#5a5a5a" opacity="0.4"/>
<ellipse cx="778.7" cy="1933.4" rx="9.8" ry="13.1" fill="#5a5a5a" opacity="0.4"/>
<ellipse cx="830.9" cy="1912.6" rx="10.8" ry="11.5" fill="#5a5a5a" opacity="0.4"/>
<ellipse cx="836.7" cy="1812.4" rx="7.8" ry="8.0" fill="#5a5a5a" opacity="0.4"/>
<ellipse cx="974.6" cy="2023.0" rx="8.1" ry="11.8" fill="#5a5a5a" opacity="0.4"/>
<ellipse cx="727.0" cy="2049.6" rx="11.7" ry="11.8" fill="#5a5a5a" opacity="0.4"/>
<ellipse cx="727.2" cy="1873.5" rx="7.8" ry="9.8" fill="#5a5a5a" opacity="0.4"/>
<ellipse cx="726.6" cy="1853.1" rx="8.5" ry="12.5" fill="#5a5a5a" opacity="0.4"/>
<ellipse cx="845.5" cy="1777.8" rx="10.4" ry="11.1" fill="#5a5a5a" opacity="0.4"/>
<ellipse cx="840.5" cy="1813.5" rx="8.5" ry="9.9" fill="#5a5a5a" opacity="0.4"/>
<ellipse cx="959.0" cy="2045.2" rx="10.8" ry="13.5" fill="#5a5a5a" opacity="0.4"/>
<ellipse cx="811.8" cy="1985.4" rx="10.9" ry="11.3" fill="#5a5a5a" opacity="0.4"/>
<ellipse cx="986.3" cy="1784.6" rx="7.7" ry="13.1" fill="#5a5a5a" opacity="0.4"/>
<ellipse cx="730.4" cy="1737.1" rx="9.2" ry="9.5" fill="#5a5a5a" opacity="0.4"/>
<ellipse cx="755.8" cy="1815.7" rx="10.3" ry="13.8" fill="#5a5a5a" opacity="0.4"/>
<ellipse cx="795.8" cy="1773.3" rx="9.0" ry="10.7" fill="#5a5a5a" opacity="0.4"/>
<ellipse cx="820.0" cy="2005.7" rx="12.0" ry="11.7" fill="#5a5a5a" opacity="0.4"/>
<ellipse cx="967.3" cy="1837.6" rx="11.1" ry="15.6" fill="#5a5a5a" opacity="0.4"/>
<ellipse cx="741.6" cy="1997.1" rx="6.4" ry="11.8" fill="#5a5a5a" opacity="0.4"/>
<ellipse cx="783.4" cy="2020.7" rx="10.9" ry="14.6" fill="#5a5a5a" opacity="0.4"/>
<ellipse cx="761.8" cy="1994.4" rx="7.5" ry="14.2" fill="#5a5a5a" opacity="0.4"/>
<ellipse cx="734.7" cy="1884.4" rx="10.6" ry="12.2" fill="#5a5a5a" opacity="0.4"/>
<ellipse cx="1025.8" cy="1888.7" rx="10.1" ry="10.5" fill="#5a5a5a" opacity="0.4"/>
<ellipse cx="823.5" cy="1944.7" rx="6.3" ry="15.5" fill="#5a5a5a" opacity="0.4"/>
</g>
<defs><linearGradient id="pg3" x1="0" y1="0" x2="0" y2="1"><stop offset="0" stop-color="#333333"/><stop offset="1" stop-color="#363636"/></linearGradient><clipPath id="pc3"><rect x="1056.3" y="1716.3" width="312.3" height="364.2"/></clipPath></defs>
<rect x="1053.8" y="1713.8" width="317.3" height="369.2" rx="2" fill="url(#pg3)" stroke="#f47c7c" stroke-width="5"/>
<g clip-path="url(#pc3)">
<rect x="1051.3" y="1711.3" width="322.3" height="374.2" filter="url(#gnoise)" opacity="0.22"/>
<ellipse cx="1254.9" cy="1790.5" rx="11.3" ry="14.9" fill="#5a5a5a" opacity="0.4"/>
<ellipse cx="1126.0" cy="1759.8" rx="9.8" ry="10.6" fill="#5a5a5a" opacity="0.4"/>
<ellipse cx="1110.6" cy="1818.2" rx="6.7" ry="14.3" fill="#5a5a5a" opacity="0.4"/>
<ellipse cx="1062.0" cy="1734.3" rx="10.7" ry="11.8" fill="#5a5a5a" opacity="0.4"/>
<ellipse cx="1241.9" cy="1852.3" rx="6.5" ry="9.3" fill="#5a5a5a" opacity="0.4"/>
<ellipse cx="1087.3" cy="1940.9" rx="11.6" ry="16.0" fill="#5a5a5a" opacity="0.4"/>
<ellipse cx="1250.8" cy="1740.7" rx="9.9" ry="13.6" fill="#5a5a5a" opacity="0.4"/>
<ellipse cx="1301.7" cy="1764.4" rx="7.4" ry="15.9" fill="#5a5a5a" opacity="0.4"/>
<ellipse cx="1300.8" cy="1990.3" rx="10.8" ry="11.5" fill="#5a5a5a" opacity="0.4"/>
<ellipse cx="1118.4" cy="1966.2" rx="8.1" ry="9.1" fill="#5a5a5a" opacity="0.4"/>
<ellipse cx="1334.6" cy="1893.1" rx="8.6" ry="10.4" fill="#5a5a5a" opacity="0.4"/>
<ellipse cx="1272.8" cy="1787.3" rx="7.1" ry="10.8" fill="#5a5a5a" opacity="0.4"/>
<ellipse cx="1283.6" cy="1817.9" rx="11.0" ry="15.3" fill="#5a5a5a" opacity="0.4"/>
<ellipse cx="1229.1" cy="1744.0" rx="6.9" ry="10.4" fill="#5a5a5a" opacity="0.4"/>
<ellipse cx="1140.0" cy="1850.8" rx="6.0" ry="13.1" fill="#5a5a5a" opacity="0.4"/>
<ellipse cx="1175.4" cy="1785.8" rx="6.1" ry="14.9" fill="#5a5a5a" opacity="0.4"/>
<ellipse cx="1297.0" cy="1804.8" rx="10.3" ry="13.3" fill="#5a5a5a" opacity="0.4"/>
<ellipse cx="1224.4" cy="1858.1" rx="9.1" ry="12.0" fill="#5a5a5a" opacity="0.4"/>
<ellipse cx="1228.2" cy="1938.9" rx="7.9" ry="13.1" fill="#5a5a5a" opacity="0.4"/>
<ellipse cx="1093.1" cy="1906.7" rx="6.4" ry="14.7" fill="#5a5a5a" opacity="0.4"/>
<ellipse cx="1099.0" cy="2032.2" rx="7.2" ry="11.9" fill="#5a5a5a" opacity="0.4"/>
<ellipse cx="1089.5" cy="1923.8" rx="11.0" ry="13.3" fill="#5a5a5a" opacity="0.4"/>
<ellipse cx="1220.4" cy="1970.5" rx="7.5" ry="10.9" fill="#5a5a5a" opacity="0.4"/>
<ellipse cx="1244.9" cy="1744.7" rx="11.6" ry="9.7" fill="#5a5a5a" opacity="0.4"/>
<ellipse cx="1209.8" cy="2038.0" rx="6.5" ry="14.4" fill="#5a5a5a" opacity="0.4"/>
<ellipse cx="1077.9" cy="1919.2" rx="11.6" ry="11.3" fill="#5a5a5a" opacity="0.4"/>
<ellipse cx="1172.3" cy="1973.1" rx="10.9" ry="10.1" fill="#5a5a5a" opacity="0.4"/>
<ellipse cx="1071.8" cy="1744.5" rx="7.8" ry="15.6" fill="#5a5a5a" opacity="0.4"/>
<ellipse cx="1353.5" cy="1754.1" rx="10.4" ry="12.3" fill="#5a5a5a" opacity="0.4"/>
<ellipse cx="1117.3" cy="1907.8" rx="7.5" ry="13.0" fill="#5a5a5a" opacity="0.4"/>
<ellipse cx="1114.1" cy="1987.7" rx="8.5" ry="8.8" fill="#5a5a5a" opacity="0.4"/>
<ellipse cx="1254.9" cy="1847.5" rx="8.8" ry="13.3" fill="#5a5a5a" opacity="0.4"/>
<ellipse cx="1329.7" cy="1779.1" rx="7.1" ry="11.2" fill="#5a5a5a" opacity="0.4"/>
<ellipse cx="1162.7" cy="1776.0" rx="12.0" ry="11.5" fill="#5a5a5a" opacity="0.4"/>
<ellipse cx="1167.2" cy="1832.2" rx="11.9" ry="10.6" fill="#5a5a5a" opacity="0.4"/>
<ellipse cx="1173.2" cy="1993.0" rx="8.6" ry="13.8" fill="#5a5a5a" opacity="0.4"/>
<ellipse cx="1245.7" cy="1921.0" rx="7.3" ry="14.1" fill="#5a5a5a" opacity="0.4"/>
<ellipse cx="1343.0" cy="1810.3" rx="11.8" ry="11.6" fill="#5a5a5a" opacity="0.4"/>
<ellipse cx="1180.9" cy="1979.5" rx="11.9" ry="12.8" fill="#5a5a5a" opacity="0.4"/>
<ellipse cx="1217.8" cy="2075.1" rx="7.8" ry="10.4" fill="#5a5a5a" opacity="0.4"/>
<ellipse cx="1127.3" cy="2025.8" rx="6.1" ry="14.6" fill="#5a5a5a" opacity="0.4"/>
<ellipse cx="1270.6" cy="1818.1" rx="9.3" ry="12.5" fill="#5a5a5a" opacity="0.4"/>
<ellipse cx="1342.9" cy="1774.7" rx="6.2" ry="10.8" fill="#5a5a5a" opacity="0.4"/>
<ellipse cx="1101.7" cy="1850.8" rx="9.5" ry="9.9" fill="#5a5a5a" opacity="0.4"/>
<ellipse cx="1307.7" cy="1752.2" rx="8.4" ry="15.3" fill="#5a5a5a" opacity="0.4"/>
<ellipse cx="1284.2" cy="1978.5" rx="10.8" ry="9.4" fill="#5a5a5a" opacity="0.4"/>
<ellipse cx="1312.2" cy="1966.3" rx="9.5" ry="15.3" fill="#5a5a5a" opacity="0.4"/>
<ellipse cx="1241.6" cy="1826.9" rx="10.4" ry="12.6" fill="#5a5a5a" opacity="0.4"/>
<ellipse cx="1083.3" cy="1739.3" rx="10.6" ry="10.8" fill="#5a5a5a" opacity="0.4"/>
<ellipse cx="1309.6" cy="1868.5" rx="11.2" ry="15.0" fill="#5a5a5a" opacity="0.4"/>
<ellipse cx="1128.7" cy="1953.1" rx="9.6" ry="8.1" fill="#5a5a5a" opacity="0.4"/>
<ellipse cx="1297.4" cy="1856.3" rx="7.8" ry="8.3" fill="#5a5a5a" opacity="0.4"/>
<ellipse cx="1224.7" cy="1772.9" rx="9.0" ry="9.8" fill="#5a5a5a" opacity="0.4"/>
<ellipse cx="1074.8" cy="1981.4" rx="8.4" ry="11.6" fill="#5a5a5a" opacity="0.4"/>
<ellipse cx="1241.6" cy="1900.1" rx="7.3" ry="10.3" fill="#5a5a5a" opacity="0.4"/>
<ellipse cx="1090" cy="1938" rx="20" ry="5" fill="#111" transform="rotate(28 1090 1938)"/>
<g fill="#f44a4a"><circle cx="1179.8" cy="1764.1" r="1.1"/><circle cx="1071.5" cy="1861.3" r="1.1"/><circle cx="1299.0" cy="1763.5" r="1.1"/><circle cx="1209.2" cy="1953.4" r="1.2"/><circle cx="1287.0" cy="1805.6" r="1.1"/><circle cx="1157.6" cy="2052.4" r="1.1"/><circle cx="1189.0" cy="1842.8" r="1.3"/><circle cx="1063.6" cy="1827.0" r="1.8"/><ellipse cx="1366.9" cy="1877.0" rx="1.8" ry="0.8" transform="rotate(147 1366.9 1877.0)"/><circle cx="1118.7" cy="1852.1" r="1.6"/><circle cx="1091.3" cy="1735.9" r="1.8"/><circle cx="1328.8" cy="2014.5" r="1.0"/><ellipse cx="1090.9" cy="1879.8" rx="1.6" ry="0.7" transform="rotate(97 1090.9 1879.8)"/><circle cx="1120.0" cy="1906.5" r="1.2"/><ellipse cx="1285.2" cy="1767.5" rx="2.5" ry="1.1" transform="rotate(105 1285.2 1767.5)"/><ellipse cx="1264.3" cy="1731.8" rx="1.8" ry="0.8" transform="rotate(142 1264.3 1731.8)"/><ellipse cx="1250.0" cy="1735.3" rx="2.4" ry="1.1" transform="rotate(70 1250.0 1735.3)"/><circle cx="1141.2" cy="2026.2" r="1.5"/><ellipse cx="1062.0" cy="2031.7" rx="2.4" ry="1.1" transform="rotate(69 1062.0 2031.7)"/><circle cx="1362.7" cy="1752.3" r="1.3"/><circle cx="1222.9" cy="1783.9" r="1.4"/><circle cx="1346.9" cy="1723.8" r="1.2"/><ellipse cx="1160.7" cy="1859.2" rx="1.8" ry="0.8" transform="rotate(63 1160.7 1859.2)"/><circle cx="1252.3" cy="1802.0" r="1.8"/><circle cx="1310.9" cy="1943.8" r="1.7"/><ellipse cx="1311.9" cy="1726.7" rx="2.3" ry="1.0" transform="rotate(27 1311.9 1726.7)"/><circle cx="1337.7" cy="1955.1" r="1.1"/><ellipse cx="1357.6" cy="1938.9" rx="2.4" ry="1.1" transform="rotate(43 1357.6 1938.9)"/><ellipse cx="1104.0" cy="2069.3" rx="2.8" ry="1.2" transform="rotate(98 1104.0 2069.3)"/><circle cx="1120.9" cy="1766.4" r="1.4"/><circle cx="1326.9" cy="1828.5" r="1.6"/><ellipse cx="1098.5" cy="2078.4" rx="2.8" ry="1.2" transform="rotate(168 1098.5 2078.4)"/><circle cx="1344.0" cy="1831.6" r="1.4"/><circle cx="1093.2" cy="1831.6" r="1.7"/><circle cx="1296.3" cy="2036.4" r="1.3"/></g>
</g>
<defs><linearGradient id="pg4" x1="0" y1="0" x2="0" y2="1"><stop offset="0" stop-color="#6e6e6e"/><stop offset="1" stop-color="#686868"/></linearGradient><clipPath id="pc4"><rect x="1406.4" y="1716.3" width="312.3" height="364.2"/></clipPath></defs>
<rect x="1403.9" y="1713.8" width="317.3" height="369.2" rx="2" fill="url(#pg4)" stroke="#1ca8e2" stroke-width="5"/>
<g clip-path="url(#pc4)">
<rect x="1401.4" y="1711.3" width="322.3" height="374.2" filter="url(#gnoise)" opacity="0.22"/>
<path d="M1406 1716 L 1461 1716 L 1458 1728 L 1450 1732 L 1420 1731 L 1406 1738 Z" fill="#000"/>
<path d="M1556 1716 L 1719 1716 L 1719 1762 C 1705 1752, 1695 1746, 1680 1744 C 1660 1738, 1650 1733, 1635 1734 C 1615 1735, 1600 1737, 1585 1734 C 1572 1730, 1565 1722, 1556 1716 Z" fill="#000"/>
<g fill="#f85454"><ellipse cx="1546.4" cy="1967.6" rx="2.4" ry="1.1" transform="rotate(74 1546.4 1967.6)"/><ellipse cx="1697.4" cy="1837.8" rx="2.9" ry="1.3" transform="rotate(81 1697.4 1837.8)"/><ellipse cx="1494.3" cy="1745.4" rx="4.0" ry="1.8" transform="rotate(54 1494.3 1745.4)"/><circle cx="1466.9" cy="1791.1" r="1.2"/><circle cx="1644.8" cy="1807.1" r="2.2"/><ellipse cx="1584.6" cy="1796.2" rx="2.7" ry="1.2" transform="rotate(87 1584.6 1796.2)"/><ellipse cx="1481.1" cy="1755.4" rx="2.9" ry="1.3" transform="rotate(166 1481.1 1755.4)"/><circle cx="1520.7" cy="1916.9" r="2.2"/><ellipse cx="1621.9" cy="1875.2" rx="3.6" ry="1.6" transform="rotate(157 1621.9 1875.2)"/><circle cx="1596.3" cy="1755.8" r="2.3"/><ellipse cx="1629.3" cy="1899.8" rx="3.3" ry="1.5" transform="rotate(130 1629.3 1899.8)"/><circle cx="1561.4" cy="1902.0" r="1.7"/><ellipse cx="1452.4" cy="1745.7" rx="2.9" ry="1.3" transform="rotate(168 1452.4 1745.7)"/><circle cx="1645.5" cy="1763.8" r="2.1"/><circle cx="1414.6" cy="1750.4" r="1.1"/><circle cx="1638.6" cy="1857.9" r="1.1"/><ellipse cx="1714.4" cy="1737.2" rx="3.3" ry="1.4" transform="rotate(104 1714.4 1737.2)"/><circle cx="1695.5" cy="1779.3" r="1.5"/><ellipse cx="1713.6" cy="1828.5" rx="2.4" ry="1.1" transform="rotate(50 1713.6 1828.5)"/><circle cx="1510.1" cy="1838.2" r="1.5"/><ellipse cx="1550.9" cy="1737.5" rx="1.9" ry="0.8" transform="rotate(49 1550.9 1737.5)"/><circle cx="1422.9" cy="1857.2" r="1.0"/><ellipse cx="1636.5" cy="1811.0" rx="2.9" ry="1.3" transform="rotate(63 1636.5 1811.0)"/><ellipse cx="1598.3" cy="1806.0" rx="2.4" ry="1.1" transform="rotate(127 1598.3 1806.0)"/><ellipse cx="1638.7" cy="1856.8" rx="2.3" ry="1.0" transform="rotate(13 1638.7 1856.8)"/><ellipse cx="1679.7" cy="1816.4" rx="3.2" ry="1.4" transform="rotate(80 1679.7 1816.4)"/><circle cx="1652.4" cy="1865.4" r="1.2"/><ellipse cx="1664.7" cy="1752.0" rx="3.3" ry="1.5" transform="rotate(10 1664.7 1752.0)"/><ellipse cx="1423.1" cy="1880.1" rx="2.7" ry="1.2" transform="rotate(107 1423.1 1880.1)"/><circle cx="1531.8" cy="1738.8" r="1.9"/><circle cx="1636.4" cy="1870.2" r="2.1"/><circle cx="1604.2" cy="1786.3" r="1.5"/><circle cx="1425.2" cy="1765.9" r="2.1"/><circle cx="1503.8" cy="1851.9" r="1.9"/><circle cx="1664.9" cy="1857.1" r="2.2"/><circle cx="1598.8" cy="1765.2" r="1.2"/><circle cx="1426.8" cy="1801.1" r="2.5"/><circle cx="1665.6" cy="1742.1" r="1.7"/><circle cx="1549.1" cy="1745.1" r="2.1"/><ellipse cx="1649.8" cy="1792.9" rx="2.2" ry="1.0" transform="rotate(155 1649.8 1792.9)"/><circle cx="1698.9" cy="1756.5" r="2.0"/><circle cx="1537.4" cy="1796.0" r="1.6"/><circle cx="1548.9" cy="1804.3" r="2.1"/><circle cx="1629.5" cy="1879.6" r="2.4"/><circle cx="1472.2" cy="1822.4" r="1.0"/><circle cx="1623.0" cy="1760.6" r="1.6"/><circle cx="1689.4" cy="1790.0" r="1.3"/><ellipse cx="1448.1" cy="1917.9" rx="3.1" ry="1.4" transform="rotate(19 1448.1 1917.9)"/><circle cx="1445.2" cy="1843.2" r="2.3"/><circle cx="1571.3" cy="1770.6" r="1.5"/><circle cx="1528.3" cy="1771.7" r="2.3"/><circle cx="1702.5" cy="1873.9" r="1.6"/><circle cx="1526.6" cy="1885.1" r="2.0"/><circle cx="1691.0" cy="1874.9" r="2.6"/><circle cx="1584.2" cy="1771.8" r="1.5"/><circle cx="1677.6" cy="1792.7" r="1.9"/><circle cx="1465.1" cy="1764.6" r="1.7"/><ellipse cx="1505.3" cy="1856.6" rx="3.0" ry="1.3" transform="rotate(119 1505.3 1856.6)"/><circle cx="1646.7" cy="1893.9" r="1.1"/><circle cx="1446.2" cy="1790.8" r="1.9"/><circle cx="1450.5" cy="1783.9" r="1.9"/><circle cx="1488.0" cy="1895.2" r="1.9"/><circle cx="1551.3" cy="1827.4" r="1.3"/><ellipse cx="1411.8" cy="1853.5" rx="1.8" ry="0.8" transform="rotate(147 1411.8 1853.5)"/><circle cx="1681.9" cy="1747.2" r="2.2"/><circle cx="1556.5" cy="1894.5" r="1.8"/><circle cx="1536.3" cy="1877.7" r="1.1"/><circle cx="1485.4" cy="1812.7" r="2.4"/><ellipse cx="1578.6" cy="1846.9" rx="3.2" ry="1.4" transform="rotate(26 1578.6 1846.9)"/><circle cx="1664.2" cy="1839.7" r="1.2"/><circle cx="1425.1" cy="1839.2" r="1.6"/><circle cx="1421.3" cy="1875.2" r="1.3"/><circle cx="1673.0" cy="1849.1" r="1.5"/><ellipse cx="1501.9" cy="1933.5" rx="3.9" ry="1.7" transform="rotate(170 1501.9 1933.5)"/><circle cx="1693.5" cy="1853.8" r="1.7"/><ellipse cx="1464.9" cy="1772.8" rx="2.5" ry="1.1" transform="rotate(1 1464.9 1772.8)"/><circle cx="1617.0" cy="1876.0" r="2.6"/><ellipse cx="1593.3" cy="1853.3" rx="1.9" ry="0.8" transform="rotate(66 1593.3 1853.3)"/><ellipse cx="1652.5" cy="1793.3" rx="3.0" ry="1.3" transform="rotate(127 1652.5 1793.3)"/><circle cx="1588.3" cy="1853.8" r="2.3"/><circle cx="1696.9" cy="1819.4" r="2.4"/><circle cx="1523.5" cy="1790.9" r="1.4"/><ellipse cx="1526.7" cy="1850.4" rx="2.6" ry="1.1" transform="rotate(69 1526.7 1850.4)"/><circle cx="1579.5" cy="1787.3" r="1.6"/><circle cx="1500.2" cy="1857.6" r="2.1"/><circle cx="1494.5" cy="1873.3" r="1.3"/><circle cx="1572.3" cy="1917.9" r="2.5"/><circle cx="1598.5" cy="1763.6" r="1.2"/><ellipse cx="1443.7" cy="1756.5" rx="3.3" ry="1.5" transform="rotate(13 1443.7 1756.5)"/><circle cx="1714.1" cy="1902.6" r="1.0"/><circle cx="1559.0" cy="1840.2" r="1.8"/><ellipse cx="1713.8" cy="1994.2" rx="4.1" ry="1.8" transform="rotate(116 1713.8 1994.2)"/><circle cx="1498.5" cy="1816.1" r="1.7"/><circle cx="1571.8" cy="1801.1" r="2.3"/><ellipse cx="1716.5" cy="1773.4" rx="2.7" ry="1.2" transform="rotate(92 1716.5 1773.4)"/><circle cx="1583.3" cy="1785.3" r="1.9"/><ellipse cx="1570.1" cy="1829.5" rx="2.5" ry="1.1" transform="rotate(109 1570.1 1829.5)"/><circle cx="1465.4" cy="1838.0" r="1.9"/><circle cx="1597.7" cy="1821.0" r="1.4"/><circle cx="1410.5" cy="2057.8" r="1.7"/><circle cx="1417.4" cy="1777.4" r="1.6"/><circle cx="1671.2" cy="1777.6" r="1.9"/><circle cx="1656.3" cy="1859.1" r="1.2"/><ellipse cx="1512.8" cy="1735.8" rx="3.4" ry="1.5" transform="rotate(132 1512.8 1735.8)"/><circle cx="1582.6" cy="1746.7" r="2.6"/><circle cx="1472.0" cy="1748.8" r="2.2"/><circle cx="1496.7" cy="1760.7" r="1.1"/><circle cx="1566.1" cy="1834.7" r="1.1"/><circle cx="1509.8" cy="1917.5" r="2.2"/><circle cx="1515.1" cy="1742.0" r="1.1"/><ellipse cx="1633.1" cy="1756.8" rx="3.6" ry="1.6" transform="rotate(9 1633.1 1756.8)"/><circle cx="1464.1" cy="1754.4" r="1.5"/><circle cx="1511.8" cy="1829.1" r="1.8"/><circle cx="1692.2" cy="1887.6" r="1.8"/><circle cx="1655.6" cy="1818.9" r="1.7"/><ellipse cx="1603.2" cy="1844.0" rx="3.6" ry="1.6" transform="rotate(6 1603.2 1844.0)"/><circle cx="1684.8" cy="1840.5" r="2.5"/><circle cx="1651.5" cy="1760.0" r="2.2"/><circle cx="1537.5" cy="1745.6" r="1.1"/><ellipse cx="1502.2" cy="1962.6" rx="2.0" ry="0.9" transform="rotate(178 1502.2 1962.6)"/><circle cx="1633.3" cy="1794.5" r="2.3"/><ellipse cx="1474.1" cy="1871.3" rx="2.3" ry="1.0" transform="rotate(91 1474.1 1871.3)"/><ellipse cx="1621.1" cy="1811.9" rx="3.8" ry="1.7" transform="rotate(24 1621.1 1811.9)"/><circle cx="1518.9" cy="1974.0" r="1.4"/><ellipse cx="1708.6" cy="1740.7" rx="1.6" ry="0.7" transform="rotate(31 1708.6 1740.7)"/><ellipse cx="1713.0" cy="1764.6" rx="3.1" ry="1.4" transform="rotate(80 1713.0 1764.6)"/><ellipse cx="1603.0" cy="1820.6" rx="3.7" ry="1.6" transform="rotate(126 1603.0 1820.6)"/><circle cx="1530.0" cy="1865.5" r="1.8"/><ellipse cx="1593.3" cy="1867.0" rx="3.8" ry="1.7" transform="rotate(15 1593.3 1867.0)"/><circle cx="1627.2" cy="1885.6" r="1.2"/></g>
<ellipse cx="1719" cy="1857" rx="4" ry="7" fill="#000"/>
</g>
<defs><linearGradient id="pg5" x1="0" y1="0" x2="0" y2="1"><stop offset="0" stop-color="#6e6e6e"/><stop offset="1" stop-color="#6a6a6a"/></linearGradient><clipPath id="pc5"><rect x="1740.2" y="1716.3" width="312.2" height="364.2"/></clipPath></defs>
<rect x="1737.7" y="1713.8" width="317.2" height="369.2" rx="2" fill="url(#pg5)" stroke="#1ca8e2" stroke-width="5"/>
<g clip-path="url(#pc5)">
<rect x="1735.2" y="1711.3" width="322.2" height="374.2" filter="url(#gnoise)" opacity="0.22"/>
<path d="M1740 1716 L 1861 1716 C 1840 1725, 1820 1730, 1805 1735 C 1790 1740, 1780 1746, 1770 1752 C 1755 1760, 1748 1768, 1740 1776 Z" fill="#000"/>
<path d="M1865 1716 L 1880 1716 L 1874 1748 Z" fill="#111"/>
<ellipse cx="2020" cy="1782" rx="6" ry="22" fill="#222" filter="url(#soft)"/>
<ellipse cx="1967" cy="2038" rx="12" ry="11" fill="#a0a0a0" opacity="0.5"/>
<g fill="#f85454"><ellipse cx="1792.0" cy="2158.0" rx="3.1" ry="1.3" transform="rotate(79 1792.0 2158.0)"/><circle cx="1939.5" cy="1755.5" r="1.3"/><ellipse cx="1850.2" cy="1881.7" rx="1.8" ry="0.8" transform="rotate(72 1850.2 1881.7)"/><circle cx="1836.9" cy="1915.1" r="1.9"/><ellipse cx="1907.4" cy="1893.0" rx="2.5" ry="1.1" transform="rotate(157 1907.4 1893.0)"/><circle cx="1748.6" cy="1884.4" r="2.1"/><circle cx="1951.9" cy="1936.4" r="1.0"/><circle cx="1939.4" cy="1791.9" r="2.1"/><ellipse cx="2025.0" cy="1818.9" rx="2.1" ry="0.9" transform="rotate(118 2025.0 1818.9)"/><circle cx="1864.3" cy="1836.2" r="1.9"/><circle cx="1969.0" cy="1817.6" r="1.4"/><circle cx="1799.9" cy="1790.3" r="1.7"/><circle cx="1998.7" cy="1803.8" r="1.1"/><ellipse cx="1811.9" cy="1749.4" rx="2.1" ry="0.9" transform="rotate(4 1811.9 1749.4)"/><circle cx="1773.0" cy="1921.1" r="2.0"/><ellipse cx="1939.6" cy="1816.6" rx="3.0" ry="1.3" transform="rotate(154 1939.6 1816.6)"/><circle cx="1784.6" cy="1899.7" r="1.7"/><ellipse cx="2018.3" cy="1977.0" rx="2.9" ry="1.3" transform="rotate(84 2018.3 1977.0)"/><circle cx="2030.5" cy="1934.2" r="1.3"/><ellipse cx="2020.5" cy="1970.2" rx="3.1" ry="1.3" transform="rotate(29 2020.5 1970.2)"/><ellipse cx="1767.6" cy="1766.6" rx="2.2" ry="1.0" transform="rotate(172 1767.6 1766.6)"/><circle cx="1825.7" cy="1870.9" r="1.5"/><ellipse cx="2028.2" cy="1807.7" rx="2.5" ry="1.1" transform="rotate(138 2028.2 1807.7)"/><circle cx="1811.6" cy="1797.1" r="1.8"/><ellipse cx="1963.2" cy="1785.3" rx="2.7" ry="1.2" transform="rotate(80 1963.2 1785.3)"/><circle cx="2018.4" cy="1775.6" r="1.2"/><circle cx="2029.5" cy="1797.3" r="1.8"/><circle cx="1920.3" cy="1833.0" r="1.6"/><circle cx="1894.7" cy="1975.7" r="1.9"/><circle cx="1909.7" cy="1843.0" r="1.0"/><circle cx="1994.5" cy="1912.2" r="2.1"/><circle cx="1953.0" cy="1763.9" r="1.5"/><ellipse cx="2037.4" cy="1880.4" rx="3.4" ry="1.5" transform="rotate(83 2037.4 1880.4)"/><ellipse cx="1978.8" cy="1831.7" rx="2.8" ry="1.2" transform="rotate(7 1978.8 1831.7)"/><circle cx="1862.2" cy="1817.7" r="2.1"/><circle cx="1854.6" cy="1932.0" r="1.1"/><circle cx="1969.3" cy="1799.3" r="1.9"/><circle cx="1894.2" cy="1810.6" r="1.1"/><circle cx="1838.9" cy="1985.9" r="1.5"/><circle cx="1756.3" cy="1797.2" r="1.1"/><circle cx="1758.1" cy="1918.7" r="1.8"/><ellipse cx="1951.8" cy="1904.5" rx="3.3" ry="1.4" transform="rotate(104 1951.8 1904.5)"/><circle cx="2027.1" cy="1814.9" r="1.8"/><circle cx="2025.0" cy="1761.5" r="1.1"/><circle cx="1784.8" cy="1764.5" r="1.4"/><circle cx="1884.1" cy="1781.8" r="1.2"/><ellipse cx="1994.4" cy="1864.7" rx="3.1" ry="1.4" transform="rotate(145 1994.4 1864.7)"/><circle cx="1875.0" cy="1839.4" r="2.0"/><ellipse cx="1951.9" cy="1904.5" rx="2.7" ry="1.2" transform="rotate(151 1951.9 1904.5)"/><circle cx="1986.9" cy="2061.9" r="1.9"/><circle cx="1847.3" cy="1797.1" r="1.5"/><circle cx="1913.8" cy="1794.4" r="1.5"/><circle cx="1757.4" cy="1949.0" r="1.7"/><ellipse cx="1749.8" cy="1893.1" rx="2.5" ry="1.1" transform="rotate(32 1749.8 1893.1)"/><circle cx="1772.2" cy="1902.1" r="1.5"/><ellipse cx="1980.6" cy="1966.3" rx="2.9" ry="1.3" transform="rotate(115 1980.6 1966.3)"/><ellipse cx="1904.5" cy="2006.0" rx="2.8" ry="1.2" transform="rotate(32 1904.5 2006.0)"/><circle cx="1897.5" cy="1906.0" r="2.1"/><ellipse cx="1983.7" cy="1752.2" rx="2.1" ry="0.9" transform="rotate(95 1983.7 1752.2)"/><circle cx="1774.2" cy="1755.2" r="1.4"/><ellipse cx="1909.6" cy="1787.8" rx="2.9" ry="1.3" transform="rotate(35 1909.6 1787.8)"/><circle cx="1988.0" cy="1963.8" r="1.8"/><circle cx="1889.7" cy="1831.5" r="1.1"/><ellipse cx="1831.9" cy="1918.2" rx="2.4" ry="1.1" transform="rotate(145 1831.9 1918.2)"/><ellipse cx="1976.3" cy="1950.6" rx="3.4" ry="1.5" transform="rotate(141 1976.3 1950.6)"/><circle cx="1892.9" cy="1802.4" r="1.1"/><circle cx="1965.0" cy="1841.4" r="1.2"/><ellipse cx="1844.3" cy="1808.5" rx="3.1" ry="1.4" transform="rotate(18 1844.3 1808.5)"/><circle cx="1970.0" cy="1831.3" r="1.3"/><ellipse cx="1892.7" cy="1837.0" rx="3.3" ry="1.4" transform="rotate(167 1892.7 1837.0)"/><circle cx="1883.8" cy="1798.5" r="1.9"/><ellipse cx="2042.5" cy="1790.8" rx="2.0" ry="0.9" transform="rotate(125 2042.5 1790.8)"/><ellipse cx="1763.2" cy="1911.1" rx="2.5" ry="1.1" transform="rotate(62 1763.2 1911.1)"/><circle cx="2015.4" cy="1937.1" r="1.7"/><circle cx="1939.6" cy="1805.6" r="2.2"/></g>
</g>
<text x="272.5" y="2042.8" font-size="32.7" fill="#fff" text-anchor="middle">0.4mm</text>
<rect x="212.9" y="2057.1" width="120.1" height="10.3" fill="#fff"/>
<rect x="390" y="2057.1" width="120.0" height="10.3" fill="#fff"/>
<rect x="896.9" y="2057.1" width="120.1" height="10.3" fill="#fff"/>
<rect x="1073" y="2057.1" width="121.4" height="10.3" fill="#fff"/>
<rect x="1580" y="2057.1" width="121.3" height="10.3" fill="#fff"/>
<rect x="1757.5" y="2057.1" width="121.3" height="10.3" fill="#fff"/>
<text x="47.5" y="2068.1" font-size="32" fill="#fff">L</text>
<text x="649.5" y="2068.1" font-size="32" fill="#fff">R</text>
<text x="731.5" y="2068.1" font-size="32" fill="#fff">L</text>
<text x="1332" y="2068.1" font-size="32" fill="#fff">R</text>
<text x="1416.5" y="2068.1" font-size="32" fill="#fff">L</text>
<text x="2013" y="2068.1" font-size="32" fill="#fff">R</text>

</svg>
</body></html>
